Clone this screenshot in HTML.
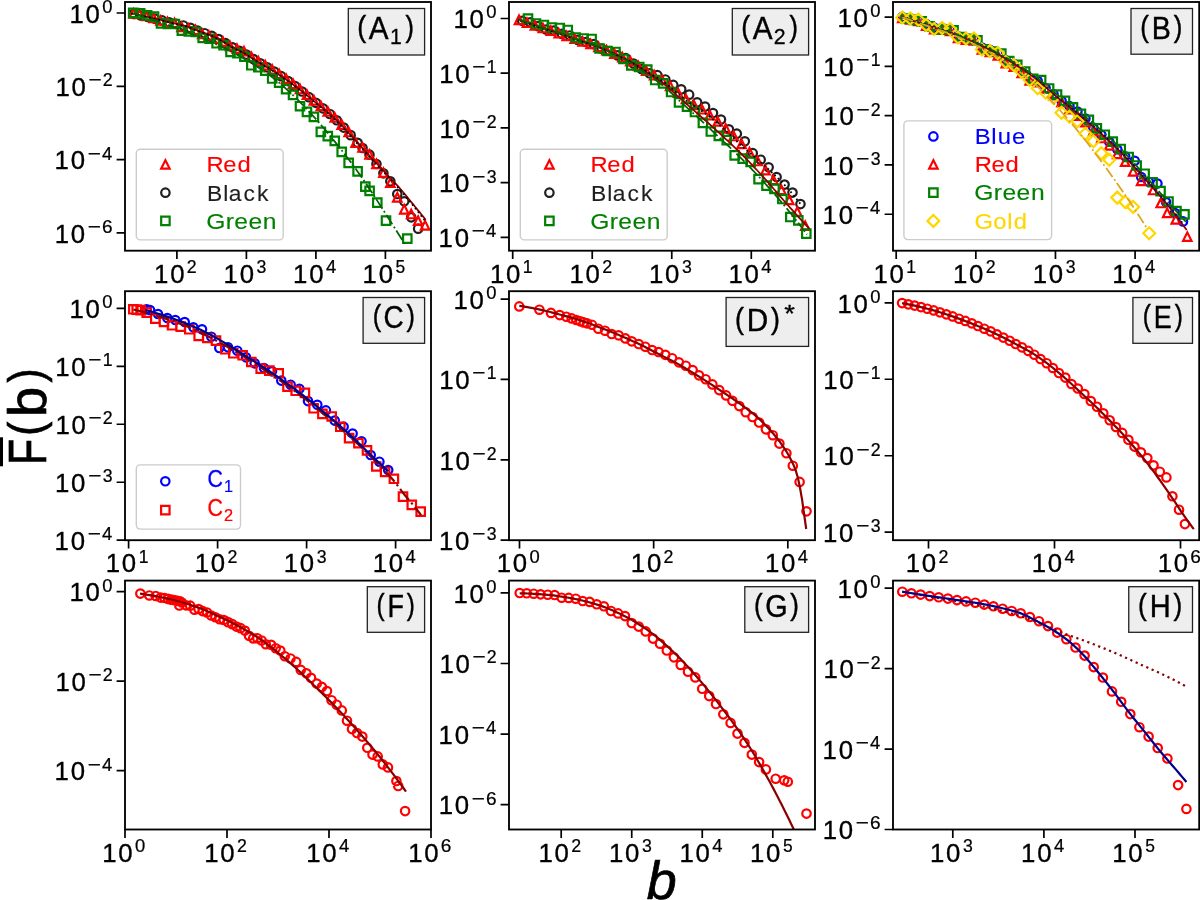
<!DOCTYPE html>
<html lang="en"><head><meta charset="utf-8"><title>CCDF panels</title>
<style>html,body{margin:0;padding:0;background:#fff}body{width:1200px;height:900px;overflow:hidden;font-family:"Liberation Sans",sans-serif}svg{display:block;will-change:transform}</style>
</head><body>
<svg width="1200" height="900" viewBox="0 0 1200 900" font-family="'Liberation Sans', sans-serif">
<rect width="1200" height="900" fill="#fff"/>
<defs>
<clipPath id="cA1"><rect x="125" y="2" width="306" height="248.7"/></clipPath>
<clipPath id="cA2"><rect x="509" y="2" width="306" height="248.7"/></clipPath>
<clipPath id="cB"><rect x="893" y="2" width="306.2" height="248.7"/></clipPath>
<clipPath id="cC"><rect x="125" y="291.2" width="306" height="249"/></clipPath>
<clipPath id="cD"><rect x="509" y="291.2" width="306" height="249"/></clipPath>
<clipPath id="cE"><rect x="893" y="291.2" width="306.2" height="249"/></clipPath>
<clipPath id="cF"><rect x="125" y="580.6" width="306" height="248.9"/></clipPath>
<clipPath id="cG"><rect x="509" y="580.6" width="306" height="248.9"/></clipPath>
<clipPath id="cH"><rect x="893" y="580.6" width="306.2" height="248.9"/></clipPath>
</defs>
<g id="panel-A1">
<g clip-path="url(#cA1)" fill="none" stroke-width="2.2" stroke-linejoin="miter">
<path d="M129.47 13.94a4.22 4.22 0 1 0 8.45 0a4.22 4.22 0 1 0 -8.45 0zM136.57 15.45a4.22 4.22 0 1 0 8.45 0a4.22 4.22 0 1 0 -8.45 0zM143.68 17.02a4.22 4.22 0 1 0 8.45 0a4.22 4.22 0 1 0 -8.45 0zM150.77 18.65a4.22 4.22 0 1 0 8.45 0a4.22 4.22 0 1 0 -8.45 0zM157.88 20.41a4.22 4.22 0 1 0 8.45 0a4.22 4.22 0 1 0 -8.45 0zM164.97 22.21a4.22 4.22 0 1 0 8.45 0a4.22 4.22 0 1 0 -8.45 0zM172.07 23.91a4.22 4.22 0 1 0 8.45 0a4.22 4.22 0 1 0 -8.45 0zM179.18 25.47a4.22 4.22 0 1 0 8.45 0a4.22 4.22 0 1 0 -8.45 0zM186.27 27.88a4.22 4.22 0 1 0 8.45 0a4.22 4.22 0 1 0 -8.45 0zM193.38 30.68a4.22 4.22 0 1 0 8.45 0a4.22 4.22 0 1 0 -8.45 0zM200.47 33.22a4.22 4.22 0 1 0 8.45 0a4.22 4.22 0 1 0 -8.45 0zM207.42 35.86a4.22 4.22 0 1 0 8.45 0a4.22 4.22 0 1 0 -8.45 0zM214.38 39.1a4.22 4.22 0 1 0 8.45 0a4.22 4.22 0 1 0 -8.45 0zM221.33 43.17a4.22 4.22 0 1 0 8.45 0a4.22 4.22 0 1 0 -8.45 0zM228.28 47.34a4.22 4.22 0 1 0 8.45 0a4.22 4.22 0 1 0 -8.45 0zM235.22 50.84a4.22 4.22 0 1 0 8.45 0a4.22 4.22 0 1 0 -8.45 0zM242.17 54.51a4.22 4.22 0 1 0 8.45 0a4.22 4.22 0 1 0 -8.45 0zM249.12 59.05a4.22 4.22 0 1 0 8.45 0a4.22 4.22 0 1 0 -8.45 0zM256.07 63.29a4.22 4.22 0 1 0 8.45 0a4.22 4.22 0 1 0 -8.45 0zM263.02 67.35a4.22 4.22 0 1 0 8.45 0a4.22 4.22 0 1 0 -8.45 0zM269.97 71.59a4.22 4.22 0 1 0 8.45 0a4.22 4.22 0 1 0 -8.45 0zM276.92 76.19a4.22 4.22 0 1 0 8.45 0a4.22 4.22 0 1 0 -8.45 0zM283.88 81.05a4.22 4.22 0 1 0 8.45 0a4.22 4.22 0 1 0 -8.45 0zM290.82 86.14a4.22 4.22 0 1 0 8.45 0a4.22 4.22 0 1 0 -8.45 0zM297.77 91.52a4.22 4.22 0 1 0 8.45 0a4.22 4.22 0 1 0 -8.45 0zM304.72 97.16a4.22 4.22 0 1 0 8.45 0a4.22 4.22 0 1 0 -8.45 0zM311.67 102.83a4.22 4.22 0 1 0 8.45 0a4.22 4.22 0 1 0 -8.45 0zM318.62 108.34a4.22 4.22 0 1 0 8.45 0a4.22 4.22 0 1 0 -8.45 0zM325.57 114a4.22 4.22 0 1 0 8.45 0a4.22 4.22 0 1 0 -8.45 0zM332.52 120.29a4.22 4.22 0 1 0 8.45 0a4.22 4.22 0 1 0 -8.45 0zM339.47 127.57a4.22 4.22 0 1 0 8.45 0a4.22 4.22 0 1 0 -8.45 0zM346.42 135.13a4.22 4.22 0 1 0 8.45 0a4.22 4.22 0 1 0 -8.45 0zM353.38 142.78a4.22 4.22 0 1 0 8.45 0a4.22 4.22 0 1 0 -8.45 0zM358.32 148a4.22 4.22 0 1 0 8.45 0a4.22 4.22 0 1 0 -8.45 0zM365.27 154.7a4.22 4.22 0 1 0 8.45 0a4.22 4.22 0 1 0 -8.45 0zM372.22 164a4.22 4.22 0 1 0 8.45 0a4.22 4.22 0 1 0 -8.45 0zM379.17 173.3a4.22 4.22 0 1 0 8.45 0a4.22 4.22 0 1 0 -8.45 0zM386.12 181.3a4.22 4.22 0 1 0 8.45 0a4.22 4.22 0 1 0 -8.45 0zM393.07 194a4.22 4.22 0 1 0 8.45 0a4.22 4.22 0 1 0 -8.45 0zM400.02 201.3a4.22 4.22 0 1 0 8.45 0a4.22 4.22 0 1 0 -8.45 0zM406.97 217.3a4.22 4.22 0 1 0 8.45 0a4.22 4.22 0 1 0 -8.45 0zM413.92 228.7a4.22 4.22 0 1 0 8.45 0a4.22 4.22 0 1 0 -8.45 0z" stroke="#1f1f1f"/>
<path d="M133.5 9.28l4.22 8.45h-8.45zM139.5 9.78l4.22 8.45h-8.45zM146.5 11.78l4.22 8.45h-8.45zM153.5 13.78l4.22 8.45h-8.45zM160.5 16.27l4.22 8.45h-8.45zM167.5 17.77l4.22 8.45h-8.45zM174.5 18.77l4.22 8.45h-8.45zM181.5 22.77l4.22 8.45h-8.45zM188.5 24.27l4.22 8.45h-8.45zM195.5 25.77l4.22 8.45h-8.45zM202.2 29.67l4.22 8.45h-8.45zM209 31.48l4.22 8.45h-8.45zM216 34.48l4.22 8.45h-8.45zM223 37.48l4.22 8.45h-8.45zM230 41.77l4.22 8.45h-8.45zM237 44.48l4.22 8.45h-8.45zM244 46.98l4.22 8.45h-8.45zM251.35 52.61l4.22 8.45h-8.45zM258.3 56.98l4.22 8.45h-8.45zM265.25 61.05l4.22 8.45h-8.45zM272.2 65.21l4.22 8.45h-8.45zM279.15 69.71l4.22 8.45h-8.45zM286.1 74.5l4.22 8.45h-8.45zM293.05 79.53l4.22 8.45h-8.45zM300 84.81l4.22 8.45h-8.45zM306.95 90.4l4.22 8.45h-8.45zM313.9 96.08l4.22 8.45h-8.45zM320.85 101.64l4.22 8.45h-8.45zM327.8 107.2l4.22 8.45h-8.45zM334.75 113.24l4.22 8.45h-8.45zM341.7 120.33l4.22 8.45h-8.45zM348.65 127.81l4.22 8.45h-8.45zM355.6 138.38l4.22 8.45h-8.45zM362.55 143.28l4.22 8.45h-8.45zM369.5 150.28l4.22 8.45h-8.45zM376.45 159.78l4.22 8.45h-8.45zM383.4 168.47l4.22 8.45h-8.45zM390.35 178.47l4.22 8.45h-8.45zM397.3 193.08l4.22 8.45h-8.45zM404.25 205.08l4.22 8.45h-8.45zM411.2 209.78l4.22 8.45h-8.45zM418.15 216.47l4.22 8.45h-8.45zM425.1 221.08l4.22 8.45h-8.45z" stroke="#ff0000"/>
<path d="M128.97 8.68h8.45v8.45h-8.45zM135.92 9.08h8.45v8.45h-8.45zM142.88 11.08h8.45v8.45h-8.45zM149.82 12.47h8.45v8.45h-8.45zM156.78 19.08h8.45v8.45h-8.45zM163.72 19.77h8.45v8.45h-8.45zM170.67 19.77h8.45v8.45h-8.45zM177.62 26.48h8.45v8.45h-8.45zM184.57 27.08h8.45v8.45h-8.45zM191.53 27.77h8.45v8.45h-8.45zM198.47 33.77h8.45v8.45h-8.45zM205.42 34.48h8.45v8.45h-8.45zM212.38 39.07h8.45v8.45h-8.45zM219.33 41.07h8.45v8.45h-8.45zM226.28 47.77h8.45v8.45h-8.45zM233.22 49.07h8.45v8.45h-8.45zM240.17 52.48h8.45v8.45h-8.45zM247.12 61.07h8.45v8.45h-8.45zM254.08 63.07h8.45v8.45h-8.45zM261.02 66.48h8.45v8.45h-8.45zM267.97 74.28h8.45v8.45h-8.45zM274.92 78.48h8.45v8.45h-8.45zM281.88 84.88h8.45v8.45h-8.45zM288.82 90.58h8.45v8.45h-8.45zM295.77 101.98h8.45v8.45h-8.45zM302.72 107.68h8.45v8.45h-8.45zM309.67 112.68h8.45v8.45h-8.45zM316.62 127.58h8.45v8.45h-8.45zM323.57 131.88h8.45v8.45h-8.45zM330.52 136.58h8.45v8.45h-8.45zM337.47 147.58h8.45v8.45h-8.45zM344.42 158.68h8.45v8.45h-8.45zM353.38 167.18h8.45v8.45h-8.45zM361.07 182.47h8.45v8.45h-8.45zM365.38 186.68h8.45v8.45h-8.45zM373.07 198.47h8.45v8.45h-8.45zM381.77 216.47h8.45v8.45h-8.45zM403.07 234.47h8.45v8.45h-8.45z" stroke="#008000"/>
<path d="M131 13.3L133.12 13.72L135.24 14.16L137.36 14.61L139.48 15.06L141.6 15.52L143.72 15.98L145.84 16.45L147.96 16.93L150.08 17.41L152.2 17.9L154.32 18.39L156.44 18.9L158.56 19.42L160.68 19.95L162.8 20.49L164.92 21.02L167.04 21.56L169.16 22.1L171.28 22.62L173.4 23.14L175.52 23.64L177.64 24.09L179.76 24.54L181.88 25L184 25.53L186.12 26.14L188.24 26.89L190.36 27.72L192.48 28.59L194.6 29.45L196.72 30.26L198.84 31.04L200.96 31.79L203.08 32.54L205.21 33.3L207.33 34.08L209.45 34.88L211.57 35.72L213.69 36.61L215.81 37.58L217.93 38.64L220.05 39.8L222.17 41.03L224.29 42.3L226.41 43.6L228.53 44.89L230.65 46.16L232.77 47.39L234.89 48.54L237.01 49.6L239.13 50.59L241.25 51.59L243.37 52.66L245.49 53.85L247.61 55.17L249.73 56.56L251.85 57.97L253.97 59.35L256.09 60.67L258.21 61.95L260.33 63.2L262.45 64.45L264.57 65.68L266.69 66.92L268.81 68.18L270.93 69.45L273.05 70.76L275.17 72.11L277.29 73.5L279.41 74.91L281.53 76.34L283.65 77.81L285.77 79.29L287.89 80.8L290.01 82.33L292.13 83.87L294.25 85.44L296.37 87.03L298.49 88.66L300.61 90.32L302.73 92.01L304.85 93.72L306.97 95.44L309.09 97.17L311.21 98.91L313.33 100.64L315.45 102.37L317.57 104.07L319.69 105.75L321.81 107.42L323.93 109.1L326.05 110.8L328.17 112.54L330.29 114.32L332.41 116.16L334.53 118.07L336.65 120.09L338.77 122.26L340.89 124.5L343.01 126.74L345.13 129.01L347.25 131.31L349.37 133.63L351.49 135.96L353.62 138.3L355.74 140.63L357.86 142.96L359.98 145.29L362.1 147.63L364.22 149.97L366.34 152.31L368.46 154.63L370.58 156.94L372.7 159.23L374.82 161.49L376.94 163.74L379.06 165.98L381.18 168.22L383.3 170.47L385.42 172.73L387.54 174.99L389.66 177.24L391.78 179.49L393.9 181.76L396.02 184.06L398.14 186.4L400.26 188.8L402.38 191.27L404.5 193.8L406.62 196.38L408.74 198.98L410.86 201.59L412.98 204.17L415.1 206.75L417.22 209.33L419.34 211.92L421.46 214.51L423.58 217.1L425.7 219.7" stroke="#8b0000" stroke-width="1.75"/>
<path d="M131 13.6L133.12 14.02L135.23 14.46L137.35 14.91L139.46 15.36L141.58 15.81L143.69 16.28L145.81 16.75L147.92 17.22L150.04 17.7L152.15 18.19L154.27 18.68L156.38 19.19L158.5 19.7L160.61 20.23L162.73 20.77L164.84 21.3L166.96 21.84L169.07 22.37L171.19 22.9L173.3 23.41L175.42 23.91L177.53 24.37L179.65 24.81L181.76 25.28L183.88 25.79L185.99 26.4L188.11 27.14L190.22 27.96L192.34 28.83L194.45 29.69L196.57 30.5L198.68 31.28L200.8 32.03L202.91 32.78L205.03 33.54L207.14 34.31L209.26 35.11L211.37 35.94L213.49 36.83L215.6 37.78L217.72 38.83L219.83 39.98L221.95 41.2L224.06 42.47L226.18 43.76L228.29 45.05L230.41 46.32L232.53 47.55L234.64 48.71L236.76 49.78L238.87 50.77L240.99 51.77L243.1 52.82L245.22 53.99L247.33 55.29L249.45 56.67L251.56 58.08L253.68 59.46L255.79 60.79L257.91 62.07L260.02 63.32L262.14 64.56L264.25 65.8L266.37 67.03L268.48 68.28L270.6 69.55L272.71 70.85L274.83 72.19L276.94 73.57L279.06 74.97L281.17 76.4L283.29 77.85L285.4 79.33L287.52 80.83L289.63 82.35L291.75 83.89L293.86 85.45L295.98 87.03L298.09 88.64L300.21 90.28L302.32 91.95L304.44 93.63L306.55 95.34L308.67 97.06L310.78 98.8L312.9 100.55L315.01 102.31L317.13 104.07L319.24 105.84L321.36 107.61L323.47 109.4L325.59 111.21L327.71 113.05L329.82 114.92L331.94 116.84L334.05 118.8L336.17 120.83L338.28 122.97L340.4 125.18L342.51 127.41L344.63 129.66L346.74 131.95L348.86 134.26L350.97 136.58L353.09 138.91L355.2 141.25L357.32 143.57L359.43 145.89L361.55 148.23L363.66 150.56L365.78 152.89L367.89 155.22L370.01 157.52L372.12 159.81L374.24 162.07L376.35 164.32L378.47 166.55L380.58 168.79L382.7 171.03L384.81 173.29L386.93 175.55L389.04 177.79L391.16 180.03L393.27 182.29L395.39 184.57L397.5 186.89L399.62 189.27L401.73 191.7L403.85 194.19L405.96 196.73L408.08 199.31L410.19 201.92L412.31 204.54L414.42 207.18L416.54 209.85L418.65 212.54L420.77 215.27L422.88 218.02L425 220.8" stroke="#000" stroke-width="1.75" stroke-dasharray="1.75 2.89"/>
<path d="M132.7 13.3L134.67 13.92L136.63 14.54L138.6 15.17L140.56 15.8L142.53 16.44L144.5 17.08L146.46 17.73L148.43 18.38L150.4 19.03L152.36 19.69L154.33 20.36L156.29 21.03L158.26 21.7L160.23 22.38L162.19 23.06L164.16 23.75L166.13 24.44L168.09 25.14L170.06 25.85L172.02 26.56L173.99 27.28L175.96 28L177.92 28.73L179.89 29.46L181.85 30.19L183.82 30.93L185.79 31.68L187.75 32.42L189.72 33.17L191.69 33.94L193.65 34.7L195.62 35.48L197.58 36.27L199.55 37.07L201.52 37.89L203.48 38.72L205.45 39.55L207.42 40.39L209.38 41.24L211.35 42.09L213.31 42.96L215.28 43.84L217.25 44.73L219.21 45.63L221.18 46.55L223.14 47.48L225.11 48.43L227.08 49.39L229.04 50.37L231.01 51.37L232.98 52.39L234.94 53.43L236.91 54.49L238.87 55.57L240.84 56.68L242.81 57.8L244.77 58.94L246.74 60.1L248.71 61.28L250.67 62.48L252.64 63.7L254.6 64.94L256.57 66.2L258.54 67.48L260.5 68.79L262.47 70.12L264.43 71.48L266.4 72.87L268.37 74.29L270.33 75.74L272.3 77.23L274.27 78.76L276.23 80.33L278.2 81.95L280.16 83.6L282.13 85.3L284.1 87.02L286.06 88.78L288.03 90.57L289.99 92.38L291.96 94.21L293.93 96.07L295.89 97.97L297.86 99.9L299.83 101.88L301.79 103.88L303.76 105.92L305.72 107.99L307.69 110.09L309.66 112.21L311.62 114.35L313.59 116.51L315.56 118.7L317.52 120.92L319.49 123.18L321.45 125.47L323.42 127.78L325.39 130.12L327.35 132.49L329.32 134.88L331.28 137.28L333.25 139.7L335.22 142.14L337.18 144.6L339.15 147.07L341.12 149.56L343.08 152.07L345.05 154.6L347.01 157.16L348.98 159.75L350.95 162.36L352.91 165L354.88 167.68L356.85 170.39L358.81 173.14L360.78 175.94L362.74 178.79L364.71 181.68L366.68 184.61L368.64 187.57L370.61 190.56L372.57 193.56L374.54 196.58L376.51 199.61L378.47 202.65L380.44 205.68L382.41 208.7L384.37 211.75L386.34 214.82L388.3 217.91L390.27 221L392.24 224.11L394.2 227.21L396.17 230.32L398.14 233.44L400.1 236.57L402.07 239.71L404.03 242.85L406 246" stroke="#006400" stroke-width="1.75" stroke-dasharray="11.2 2.8 1.75 2.8"/>
</g>
<path d="M176.9 250.7v8.4M246.4 250.7v8.4M315.9 250.7v8.4M385.4 250.7v8.4M125 13h-8.4M125 86.3h-8.4M125 159.6h-8.4M125 232.9h-8.4" stroke="#000" stroke-width="1.7" fill="none"/>
<rect x="125" y="2" width="306" height="248.7" fill="none" stroke="#000" stroke-width="1.85"/>
<text transform="translate(154.1 282.9) scale(0.9733 1)" font-size="26.5" fill="#000" stroke="#000" stroke-width="0.35"><tspan x="0">1</tspan><tspan x="16.47">0</tspan></text><text transform="translate(186.85 273.1) scale(0.9586 1)" font-size="18.55" fill="#000" stroke="#000" stroke-width="0.24">2</text>
<text transform="translate(223.6 282.9) scale(0.9733 1)" font-size="26.5" fill="#000" stroke="#000" stroke-width="0.35"><tspan x="0">1</tspan><tspan x="16.47">0</tspan></text><text transform="translate(256.62 273.1) scale(0.9551 1)" font-size="18.55" fill="#000" stroke="#000" stroke-width="0.24">3</text>
<text transform="translate(293.1 282.9) scale(0.9733 1)" font-size="26.5" fill="#000" stroke="#000" stroke-width="0.35"><tspan x="0">1</tspan><tspan x="16.47">0</tspan></text><text transform="translate(325.9 273.1) scale(0.9946 1)" font-size="18.55" fill="#000" stroke="#000" stroke-width="0.24">4</text>
<text transform="translate(362.6 282.9) scale(0.9733 1)" font-size="26.5" fill="#000" stroke="#000" stroke-width="0.35"><tspan x="0">1</tspan><tspan x="16.47">0</tspan></text><text transform="translate(395.62 273.1) scale(0.9385 1)" font-size="18.55" fill="#000" stroke="#000" stroke-width="0.24">5</text>
<text transform="translate(69.46 22.7) scale(0.9733 1)" font-size="26.5" fill="#000" stroke="#000" stroke-width="0.35"><tspan x="0">1</tspan><tspan x="16.47">0</tspan></text><text transform="translate(102.26 12.9) scale(0.9945 1)" font-size="18.55" fill="#000" stroke="#000" stroke-width="0.24">0</text>
<text transform="translate(55.39 96) scale(0.9733 1)" font-size="26.5" fill="#000" stroke="#000" stroke-width="0.35"><tspan x="0">1</tspan><tspan x="16.47">0</tspan></text><text transform="translate(88.5 86.2) scale(1.2155 1)" font-size="18.55" fill="#000" stroke="#000" stroke-width="0.24">−</text><text transform="translate(102.81 86.2) scale(0.9586 1)" font-size="18.55" fill="#000" stroke="#000" stroke-width="0.24">2</text>
<text transform="translate(54.62 169.3) scale(0.9733 1)" font-size="26.5" fill="#000" stroke="#000" stroke-width="0.35"><tspan x="0">1</tspan><tspan x="16.47">0</tspan></text><text transform="translate(87.73 159.5) scale(1.2155 1)" font-size="18.55" fill="#000" stroke="#000" stroke-width="0.24">−</text><text transform="translate(102.08 159.5) scale(0.9946 1)" font-size="18.55" fill="#000" stroke="#000" stroke-width="0.24">4</text>
<text transform="translate(54.74 242.6) scale(0.9733 1)" font-size="26.5" fill="#000" stroke="#000" stroke-width="0.35"><tspan x="0">1</tspan><tspan x="16.47">0</tspan></text><text transform="translate(87.85 232.8) scale(1.2155 1)" font-size="18.55" fill="#000" stroke="#000" stroke-width="0.24">−</text><text transform="translate(102.02 232.8) scale(1.0293 1)" font-size="18.55" fill="#000" stroke="#000" stroke-width="0.24">6</text>
<rect x="348.3" y="8.5" width="76.3" height="46.5" fill="#eeeeee" stroke="#222" stroke-width="1.3"/>
<text transform="translate(357.36 39.2) scale(0.9328 1)" font-size="31.8" fill="#000" stroke="#000" stroke-width="0.42"><tspan x="0" y="-2.01" font-size="28.68">(</tspan><tspan x="12.15" y="0">A</tspan></text>
<text transform="translate(390.05 43.8) scale(0.9498 1)" font-size="22.26" fill="#000" stroke="#000" stroke-width="0.29">1</text>
<text transform="translate(405.46 39.2) scale(0.8841 1)" font-size="31.8" fill="#000" stroke="#000" stroke-width="0.42"><tspan x="0" y="-2.01" font-size="28.68">)</tspan></text>
<rect x="136.3" y="149.2" width="146.9" height="90.7" rx="4" ry="4" fill="#fff" fill-opacity="0.8" stroke="#ccc" stroke-width="1.4"/>
<path d="M165.4 160.18l4.22 8.45h-8.45z" fill="none" stroke="#ff0000" stroke-width="2.2"/>
<text transform="translate(206.58 172.3) scale(1.0599 1)" font-size="22.43" fill="#ff0000" stroke="#ff0000" stroke-width="0.13"><tspan x="0">R</tspan><tspan x="15.77">e</tspan><tspan x="29.15">d</tspan></text>
<path d="M161.18 192.7a4.22 4.22 0 1 0 8.45 0a4.22 4.22 0 1 0 -8.45 0z" fill="none" stroke="#1f1f1f" stroke-width="2.2"/>
<text transform="translate(207.05 200.6) scale(1.0192 1)" font-size="22.43" fill="#1f1f1f" stroke="#1f1f1f" stroke-width="0.13"><tspan x="0">B</tspan><tspan x="15.88">l</tspan><tspan x="21.37">a</tspan><tspan x="35.68">c</tspan><tspan x="48.89">k</tspan></text>
<path d="M161.18 216.68h8.45v8.45h-8.45z" fill="none" stroke="#008000" stroke-width="2.2"/>
<text transform="translate(206.13 229) scale(1.0990 1)" font-size="22.43" fill="#008000" stroke="#008000" stroke-width="0.13"><tspan x="0">G</tspan><tspan x="17.79">r</tspan><tspan x="25.68">e</tspan><tspan x="38.55">e</tspan><tspan x="51.62">n</tspan></text>
</g>
<g id="panel-A2">
<g clip-path="url(#cA2)" fill="none" stroke-width="2.2" stroke-linejoin="miter">
<path d="M517.98 20.85a4.22 4.22 0 1 0 8.45 0a4.22 4.22 0 1 0 -8.45 0zM525.93 22.37a4.22 4.22 0 1 0 8.45 0a4.22 4.22 0 1 0 -8.45 0zM533.88 26.2a4.22 4.22 0 1 0 8.45 0a4.22 4.22 0 1 0 -8.45 0zM541.83 29.51a4.22 4.22 0 1 0 8.45 0a4.22 4.22 0 1 0 -8.45 0zM549.77 30.55a4.22 4.22 0 1 0 8.45 0a4.22 4.22 0 1 0 -8.45 0zM557.73 33.9a4.22 4.22 0 1 0 8.45 0a4.22 4.22 0 1 0 -8.45 0zM565.68 35.49a4.22 4.22 0 1 0 8.45 0a4.22 4.22 0 1 0 -8.45 0zM573.62 39.9a4.22 4.22 0 1 0 8.45 0a4.22 4.22 0 1 0 -8.45 0zM581.58 42.01a4.22 4.22 0 1 0 8.45 0a4.22 4.22 0 1 0 -8.45 0zM589.52 44.14a4.22 4.22 0 1 0 8.45 0a4.22 4.22 0 1 0 -8.45 0zM597.48 48.69a4.22 4.22 0 1 0 8.45 0a4.22 4.22 0 1 0 -8.45 0zM605.43 50.99a4.22 4.22 0 1 0 8.45 0a4.22 4.22 0 1 0 -8.45 0zM613.38 55.43a4.22 4.22 0 1 0 8.45 0a4.22 4.22 0 1 0 -8.45 0zM621.33 57.98a4.22 4.22 0 1 0 8.45 0a4.22 4.22 0 1 0 -8.45 0zM629.27 63.5a4.22 4.22 0 1 0 8.45 0a4.22 4.22 0 1 0 -8.45 0zM637.23 69.04a4.22 4.22 0 1 0 8.45 0a4.22 4.22 0 1 0 -8.45 0zM645.18 73.25a4.22 4.22 0 1 0 8.45 0a4.22 4.22 0 1 0 -8.45 0zM653.12 75.2a4.22 4.22 0 1 0 8.45 0a4.22 4.22 0 1 0 -8.45 0zM661.08 79.5a4.22 4.22 0 1 0 8.45 0a4.22 4.22 0 1 0 -8.45 0zM669.02 84.9a4.22 4.22 0 1 0 8.45 0a4.22 4.22 0 1 0 -8.45 0zM676.98 89.3a4.22 4.22 0 1 0 8.45 0a4.22 4.22 0 1 0 -8.45 0zM684.93 94.7a4.22 4.22 0 1 0 8.45 0a4.22 4.22 0 1 0 -8.45 0zM692.88 102.3a4.22 4.22 0 1 0 8.45 0a4.22 4.22 0 1 0 -8.45 0zM700.83 106.6a4.22 4.22 0 1 0 8.45 0a4.22 4.22 0 1 0 -8.45 0zM708.77 113.1a4.22 4.22 0 1 0 8.45 0a4.22 4.22 0 1 0 -8.45 0zM716.73 119.6a4.22 4.22 0 1 0 8.45 0a4.22 4.22 0 1 0 -8.45 0zM724.68 129.3a4.22 4.22 0 1 0 8.45 0a4.22 4.22 0 1 0 -8.45 0zM732.62 133.7a4.22 4.22 0 1 0 8.45 0a4.22 4.22 0 1 0 -8.45 0zM740.58 141.3a4.22 4.22 0 1 0 8.45 0a4.22 4.22 0 1 0 -8.45 0zM748.52 153.2a4.22 4.22 0 1 0 8.45 0a4.22 4.22 0 1 0 -8.45 0zM756.48 159.7a4.22 4.22 0 1 0 8.45 0a4.22 4.22 0 1 0 -8.45 0zM764.43 167.3a4.22 4.22 0 1 0 8.45 0a4.22 4.22 0 1 0 -8.45 0zM772.38 177a4.22 4.22 0 1 0 8.45 0a4.22 4.22 0 1 0 -8.45 0zM780.33 184.6a4.22 4.22 0 1 0 8.45 0a4.22 4.22 0 1 0 -8.45 0zM788.27 192.6a4.22 4.22 0 1 0 8.45 0a4.22 4.22 0 1 0 -8.45 0zM796.23 204.1a4.22 4.22 0 1 0 8.45 0a4.22 4.22 0 1 0 -8.45 0z" stroke="#1f1f1f"/>
<path d="M519 15.58l4.22 8.45h-8.45zM526.95 18.41l4.22 8.45h-8.45zM534.9 21.17l4.22 8.45h-8.45zM542.85 23.82l4.22 8.45h-8.45zM550.8 26.35l4.22 8.45h-8.45zM558.75 28.91l4.22 8.45h-8.45zM566.7 31.62l4.22 8.45h-8.45zM574.65 34.39l4.22 8.45h-8.45zM582.6 37.12l4.22 8.45h-8.45zM590.55 39.76l4.22 8.45h-8.45zM598.5 42.59l4.22 8.45h-8.45zM606.45 45.86l4.22 8.45h-8.45zM614.4 49.43l4.22 8.45h-8.45zM622.35 53.07l4.22 8.45h-8.45zM630.3 57l4.22 8.45h-8.45zM638.25 61.59l4.22 8.45h-8.45zM646.2 66.39l4.22 8.45h-8.45zM654.15 71.02l4.22 8.45h-8.45zM662.1 75.64l4.22 8.45h-8.45zM670.05 81.59l4.22 8.45h-8.45zM678 88.38l4.22 8.45h-8.45zM685.95 94.68l4.22 8.45h-8.45zM693.9 100.62l4.22 8.45h-8.45zM701.85 105.06l4.22 8.45h-8.45zM709.8 110.88l4.22 8.45h-8.45zM717.75 117.2l4.22 8.45h-8.45zM725.7 124.25l4.22 8.45h-8.45zM733.65 131.81l4.22 8.45h-8.45zM741.6 139.73l4.22 8.45h-8.45zM749.55 148.06l4.22 8.45h-8.45zM757.5 156.78l4.22 8.45h-8.45zM765.45 165.94l4.22 8.45h-8.45zM773.4 175.65l4.22 8.45h-8.45zM781.35 185.6l4.22 8.45h-8.45zM789.3 195.76l4.22 8.45h-8.45zM797.25 207.39l4.22 8.45h-8.45zM805.2 221.37l4.22 8.45h-8.45z" stroke="#ff0000"/>
<path d="M523.77 14.28h8.45v8.45h-8.45zM531.73 19.27h8.45v8.45h-8.45zM539.67 20.77h8.45v8.45h-8.45zM547.62 23.27h8.45v8.45h-8.45zM555.57 23.77h8.45v8.45h-8.45zM563.52 25.77h8.45v8.45h-8.45zM571.48 33.27h8.45v8.45h-8.45zM579.42 34.27h8.45v8.45h-8.45zM587.38 34.77h8.45v8.45h-8.45zM595.32 44.27h8.45v8.45h-8.45zM603.27 46.77h8.45v8.45h-8.45zM611.23 47.77h8.45v8.45h-8.45zM619.17 54.77h8.45v8.45h-8.45zM627.12 61.27h8.45v8.45h-8.45zM635.07 62.77h8.45v8.45h-8.45zM643.02 65.28h8.45v8.45h-8.45zM650.98 75.78h8.45v8.45h-8.45zM658.92 79.08h8.45v8.45h-8.45zM666.88 87.78h8.45v8.45h-8.45zM674.82 98.08h8.45v8.45h-8.45zM682.77 102.38h8.45v8.45h-8.45zM690.73 107.78h8.45v8.45h-8.45zM698.67 118.58h8.45v8.45h-8.45zM706.62 127.28h8.45v8.45h-8.45zM714.57 131.58h8.45v8.45h-8.45zM722.52 135.97h8.45v8.45h-8.45zM730.48 151.08h8.45v8.45h-8.45zM738.42 154.38h8.45v8.45h-8.45zM746.38 157.58h8.45v8.45h-8.45zM754.32 174.97h8.45v8.45h-8.45zM762.27 181.47h8.45v8.45h-8.45zM770.23 184.68h8.45v8.45h-8.45zM778.17 194.78h8.45v8.45h-8.45zM786.12 212.78h8.45v8.45h-8.45zM794.07 216.08h8.45v8.45h-8.45zM802.07 229.47h8.45v8.45h-8.45z" stroke="#008000"/>
<path d="M519 19.5L521.09 20.25L523.18 21L525.27 21.75L527.35 22.49L529.44 23.22L531.53 23.95L533.62 24.67L535.71 25.38L537.8 26.09L539.88 26.8L541.97 27.49L544.06 28.17L546.15 28.84L548.24 29.51L550.33 30.17L552.42 30.84L554.5 31.52L556.59 32.2L558.68 32.89L560.77 33.6L562.86 34.32L564.95 35.04L567.04 35.78L569.12 36.51L571.21 37.25L573.3 37.99L575.39 38.73L577.48 39.47L579.57 40.2L581.65 40.92L583.74 41.62L585.83 42.32L587.92 43.03L590.01 43.73L592.1 44.45L594.19 45.19L596.27 45.96L598.36 46.75L600.45 47.58L602.54 48.44L604.63 49.34L606.72 50.26L608.81 51.2L610.89 52.17L612.98 53.14L615.07 54.13L617.16 55.12L619.25 56.12L621.34 57.11L623.42 58.12L625.51 59.16L627.6 60.24L629.69 61.38L631.78 62.58L633.87 63.82L635.96 65.11L638.04 66.43L640.13 67.77L642.22 69.14L644.31 70.53L646.4 71.93L648.49 73.34L650.57 74.74L652.66 76.14L654.75 77.53L656.84 78.93L658.93 80.35L661.02 81.82L663.11 83.34L665.19 84.95L667.28 86.69L669.37 88.55L671.46 90.47L673.55 92.42L675.64 94.35L677.73 96.21L679.81 98.05L681.9 99.88L683.99 101.7L686.08 103.52L688.17 105.33L690.26 107.15L692.34 108.97L694.43 110.79L696.52 112.63L698.61 114.47L700.7 116.33L702.79 118.18L704.88 120.04L706.96 121.9L709.05 123.76L711.14 125.64L713.23 127.52L715.32 129.41L717.41 131.32L719.49 133.23L721.58 135.16L723.67 137.09L725.76 139.03L727.85 140.98L729.94 142.94L732.03 144.91L734.11 146.9L736.2 148.91L738.29 150.94L740.38 152.99L742.47 155.07L744.56 157.17L746.65 159.3L748.73 161.45L750.82 163.62L752.91 165.81L755 168.03L757.09 170.26L759.18 172.51L761.26 174.77L763.35 177.06L765.44 179.37L767.53 181.73L769.62 184.12L771.71 186.53L773.8 188.96L775.88 191.4L777.97 193.83L780.06 196.25L782.15 198.66L784.24 201.04L786.33 203.39L788.42 205.73L790.5 208.07L792.59 210.39L794.68 212.71L796.77 215.02L798.86 217.32L800.95 219.61L803.03 221.9L805.12 224.17L807.21 226.44L809.3 228.7" stroke="#8b0000" stroke-width="1.75"/>
<path d="M520 20.62L522.02 21.34L524.04 22.06L526.06 22.78L528.07 23.49L530.09 24.2L532.11 24.89L534.13 25.59L536.15 26.28L538.17 26.96L540.19 27.63L542.21 28.3L544.22 28.95L546.24 29.59L548.26 30.23L550.28 30.87L552.3 31.51L554.32 32.16L556.34 32.81L558.36 33.48L560.37 34.15L562.39 34.83L564.41 35.52L566.43 36.22L568.45 36.93L570.47 37.63L572.49 38.34L574.51 39.05L576.52 39.75L578.54 40.44L580.56 41.13L582.58 41.82L584.6 42.49L586.62 43.16L588.64 43.83L590.65 44.51L592.67 45.2L594.69 45.91L596.71 46.64L598.73 47.4L600.75 48.2L602.77 49.03L604.79 49.88L606.8 50.75L608.82 51.64L610.84 52.55L612.86 53.47L614.88 54.39L616.9 55.32L618.92 56.26L620.94 57.19L622.95 58.12L624.97 59.07L626.99 60.07L629.01 61.12L631.03 62.22L633.05 63.34L635.07 64.51L637.08 65.73L639.1 66.97L641.12 68.2L643.14 69.43L645.16 70.66L647.18 71.88L649.2 73.09L651.22 74.28L653.23 75.47L655.25 76.67L657.27 77.84L659.29 79.01L661.31 80.26L663.33 81.62L665.35 83.08L667.37 84.62L669.38 86.23L671.4 87.96L673.42 89.76L675.44 91.54L677.46 93.24L679.48 94.89L681.5 96.52L683.52 98.14L685.53 99.77L687.55 101.38L689.57 102.93L691.59 104.39L693.61 105.77L695.63 107.11L697.65 108.45L699.66 109.77L701.68 111.07L703.7 112.41L705.72 113.85L707.74 115.37L709.76 116.95L711.78 118.56L713.8 120.18L715.81 121.83L717.83 123.53L719.85 125.27L721.87 127.06L723.89 128.89L725.91 130.75L727.93 132.63L729.95 134.54L731.96 136.47L733.98 138.43L736 140.46L738.02 142.47L740.04 144.41L742.06 146.24L744.08 148L746.09 149.72L748.11 151.43L750.13 153.13L752.15 154.85L754.17 156.6L756.19 158.35L758.21 160.09L760.23 161.84L762.24 163.6L764.26 165.38L766.28 167.19L768.3 169.04L770.32 170.92L772.34 172.82L774.36 174.74L776.38 176.68L778.39 178.67L780.41 180.7L782.43 182.77L784.45 184.91L786.47 187.1L788.49 189.36L790.51 191.68L792.53 194.06L794.54 196.49L796.56 198.98L798.58 201.51L800.6 204.1" stroke="#000" stroke-width="1.75" stroke-dasharray="1.75 2.89"/>
<path d="M519 19.5L521.07 20.25L523.14 20.99L525.22 21.73L527.29 22.46L529.36 23.19L531.43 23.91L533.5 24.63L535.58 25.34L537.65 26.04L539.72 26.74L541.79 27.43L543.86 28.1L545.94 28.77L548.01 29.43L550.08 30.09L552.15 30.76L554.22 31.42L556.29 32.1L558.37 32.79L560.44 33.49L562.51 34.2L564.58 34.92L566.65 35.64L568.73 36.37L570.8 37.1L572.87 37.84L574.94 38.57L577.01 39.3L579.09 40.03L581.16 40.74L583.23 41.44L585.3 42.13L587.37 42.82L589.45 43.51L591.52 44.21L593.59 44.94L595.66 45.7L597.73 46.49L599.81 47.33L601.88 48.22L603.95 49.16L606.02 50.13L608.09 51.14L610.17 52.17L612.24 53.23L614.31 54.29L616.38 55.36L618.45 56.43L620.53 57.5L622.6 58.57L624.67 59.66L626.74 60.79L628.81 61.98L630.88 63.22L632.96 64.51L635.03 65.85L637.1 67.22L639.17 68.62L641.24 70.05L643.32 71.5L645.39 72.96L647.46 74.43L649.53 75.9L651.6 77.37L653.68 78.83L655.75 80.29L657.82 81.76L659.89 83.27L661.96 84.82L664.04 86.45L666.11 88.18L668.18 90.03L670.25 91.99L672.32 93.99L674.4 96L676.47 97.96L678.54 99.87L680.61 101.77L682.68 103.66L684.76 105.54L686.83 107.42L688.9 109.3L690.97 111.18L693.04 113.07L695.12 114.96L697.19 116.86L699.26 118.77L701.33 120.69L703.4 122.62L705.47 124.55L707.55 126.49L709.62 128.43L711.69 130.38L713.76 132.33L715.83 134.28L717.91 136.23L719.98 138.18L722.05 140.13L724.12 142.06L726.19 144L728.27 145.93L730.34 147.87L732.41 149.82L734.48 151.78L736.55 153.76L738.63 155.77L740.7 157.8L742.77 159.87L744.84 161.96L746.91 164.08L748.99 166.21L751.06 168.37L753.13 170.55L755.2 172.74L757.27 174.96L759.35 177.19L761.42 179.44L763.49 181.71L765.56 183.99L767.63 186.29L769.71 188.61L771.78 190.94L773.85 193.3L775.92 195.68L777.99 198.09L780.06 200.51L782.14 202.97L784.21 205.45L786.28 207.95L788.35 210.49L790.42 213.05L792.5 215.64L794.57 218.26L796.64 220.9L798.71 223.57L800.78 226.27L802.86 228.99L804.93 231.73L807 234.5" stroke="#006400" stroke-width="1.75" stroke-dasharray="11.2 2.8 1.75 2.8"/>
</g>
<path d="M512.7 250.7v8.4M592.23 250.7v8.4M671.76 250.7v8.4M751.29 250.7v8.4M509 18.5h-8.4M509 73.2h-8.4M509 127.9h-8.4M509 182.6h-8.4M509 237.3h-8.4" stroke="#000" stroke-width="1.7" fill="none"/>
<rect x="509" y="2" width="306" height="248.7" fill="none" stroke="#000" stroke-width="1.85"/>
<text transform="translate(489.9 282.9) scale(0.9733 1)" font-size="26.5" fill="#000" stroke="#000" stroke-width="0.35"><tspan x="0">1</tspan><tspan x="16.47">0</tspan></text><text transform="translate(522.85 273.1) scale(0.9498 1)" font-size="18.55" fill="#000" stroke="#000" stroke-width="0.24">1</text>
<text transform="translate(569.43 282.9) scale(0.9733 1)" font-size="26.5" fill="#000" stroke="#000" stroke-width="0.35"><tspan x="0">1</tspan><tspan x="16.47">0</tspan></text><text transform="translate(602.18 273.1) scale(0.9586 1)" font-size="18.55" fill="#000" stroke="#000" stroke-width="0.24">2</text>
<text transform="translate(648.96 282.9) scale(0.9733 1)" font-size="26.5" fill="#000" stroke="#000" stroke-width="0.35"><tspan x="0">1</tspan><tspan x="16.47">0</tspan></text><text transform="translate(681.98 273.1) scale(0.9551 1)" font-size="18.55" fill="#000" stroke="#000" stroke-width="0.24">3</text>
<text transform="translate(728.49 282.9) scale(0.9733 1)" font-size="26.5" fill="#000" stroke="#000" stroke-width="0.35"><tspan x="0">1</tspan><tspan x="16.47">0</tspan></text><text transform="translate(761.29 273.1) scale(0.9946 1)" font-size="18.55" fill="#000" stroke="#000" stroke-width="0.24">4</text>
<text transform="translate(453.46 28.2) scale(0.9733 1)" font-size="26.5" fill="#000" stroke="#000" stroke-width="0.35"><tspan x="0">1</tspan><tspan x="16.47">0</tspan></text><text transform="translate(486.26 18.4) scale(0.9945 1)" font-size="18.55" fill="#000" stroke="#000" stroke-width="0.24">0</text>
<text transform="translate(439.25 82.9) scale(0.9733 1)" font-size="26.5" fill="#000" stroke="#000" stroke-width="0.35"><tspan x="0">1</tspan><tspan x="16.47">0</tspan></text><text transform="translate(472.36 73.1) scale(1.2155 1)" font-size="18.55" fill="#000" stroke="#000" stroke-width="0.24">−</text><text transform="translate(486.86 73.1) scale(0.9498 1)" font-size="18.55" fill="#000" stroke="#000" stroke-width="0.24">1</text>
<text transform="translate(439.39 137.6) scale(0.9733 1)" font-size="26.5" fill="#000" stroke="#000" stroke-width="0.35"><tspan x="0">1</tspan><tspan x="16.47">0</tspan></text><text transform="translate(472.5 127.8) scale(1.2155 1)" font-size="18.55" fill="#000" stroke="#000" stroke-width="0.24">−</text><text transform="translate(486.81 127.8) scale(0.9586 1)" font-size="18.55" fill="#000" stroke="#000" stroke-width="0.24">2</text>
<text transform="translate(439.04 192.3) scale(0.9733 1)" font-size="26.5" fill="#000" stroke="#000" stroke-width="0.35"><tspan x="0">1</tspan><tspan x="16.47">0</tspan></text><text transform="translate(472.15 182.5) scale(1.2155 1)" font-size="18.55" fill="#000" stroke="#000" stroke-width="0.24">−</text><text transform="translate(486.73 182.5) scale(0.9551 1)" font-size="18.55" fill="#000" stroke="#000" stroke-width="0.24">3</text>
<text transform="translate(438.62 247) scale(0.9733 1)" font-size="26.5" fill="#000" stroke="#000" stroke-width="0.35"><tspan x="0">1</tspan><tspan x="16.47">0</tspan></text><text transform="translate(471.73 237.2) scale(1.2155 1)" font-size="18.55" fill="#000" stroke="#000" stroke-width="0.24">−</text><text transform="translate(486.08 237.2) scale(0.9946 1)" font-size="18.55" fill="#000" stroke="#000" stroke-width="0.24">4</text>
<rect x="732.3" y="8.5" width="76.3" height="46.5" fill="#eeeeee" stroke="#222" stroke-width="1.3"/>
<text transform="translate(741.36 39.2) scale(0.9328 1)" font-size="31.8" fill="#000" stroke="#000" stroke-width="0.42"><tspan x="0" y="-2.01" font-size="28.68">(</tspan><tspan x="12.15" y="0">A</tspan></text>
<text transform="translate(773.81 43.8) scale(0.9586 1)" font-size="22.26" fill="#000" stroke="#000" stroke-width="0.29">2</text>
<text transform="translate(789.46 39.2) scale(0.8841 1)" font-size="31.8" fill="#000" stroke="#000" stroke-width="0.42"><tspan x="0" y="-2.01" font-size="28.68">)</tspan></text>
<rect x="520.3" y="149.2" width="146.9" height="90.7" rx="4" ry="4" fill="#fff" fill-opacity="0.8" stroke="#ccc" stroke-width="1.4"/>
<path d="M549.4 160.18l4.22 8.45h-8.45z" fill="none" stroke="#ff0000" stroke-width="2.2"/>
<text transform="translate(590.58 172.3) scale(1.0599 1)" font-size="22.43" fill="#ff0000" stroke="#ff0000" stroke-width="0.13"><tspan x="0">R</tspan><tspan x="15.77">e</tspan><tspan x="29.15">d</tspan></text>
<path d="M545.17 192.7a4.22 4.22 0 1 0 8.45 0a4.22 4.22 0 1 0 -8.45 0z" fill="none" stroke="#1f1f1f" stroke-width="2.2"/>
<text transform="translate(591.05 200.6) scale(1.0192 1)" font-size="22.43" fill="#1f1f1f" stroke="#1f1f1f" stroke-width="0.13"><tspan x="0">B</tspan><tspan x="15.88">l</tspan><tspan x="21.37">a</tspan><tspan x="35.68">c</tspan><tspan x="48.89">k</tspan></text>
<path d="M545.17 216.68h8.45v8.45h-8.45z" fill="none" stroke="#008000" stroke-width="2.2"/>
<text transform="translate(590.13 229) scale(1.0990 1)" font-size="22.43" fill="#008000" stroke="#008000" stroke-width="0.13"><tspan x="0">G</tspan><tspan x="17.79">r</tspan><tspan x="25.68">e</tspan><tspan x="38.55">e</tspan><tspan x="51.62">n</tspan></text>
</g>
<g id="panel-B">
<g clip-path="url(#cB)" fill="none" stroke-width="2.2" stroke-linejoin="miter">
<path d="M898.07 16.94a4.22 4.22 0 1 0 8.45 0a4.22 4.22 0 1 0 -8.45 0zM906.03 18.16a4.22 4.22 0 1 0 8.45 0a4.22 4.22 0 1 0 -8.45 0zM913.99 19.75a4.22 4.22 0 1 0 8.45 0a4.22 4.22 0 1 0 -8.45 0zM921.95 24.06a4.22 4.22 0 1 0 8.45 0a4.22 4.22 0 1 0 -8.45 0zM929.91 27.66a4.22 4.22 0 1 0 8.45 0a4.22 4.22 0 1 0 -8.45 0zM937.87 27.76a4.22 4.22 0 1 0 8.45 0a4.22 4.22 0 1 0 -8.45 0zM945.83 29.53a4.22 4.22 0 1 0 8.45 0a4.22 4.22 0 1 0 -8.45 0zM953.79 36.3a4.22 4.22 0 1 0 8.45 0a4.22 4.22 0 1 0 -8.45 0zM961.75 38.04a4.22 4.22 0 1 0 8.45 0a4.22 4.22 0 1 0 -8.45 0zM969.71 38.96a4.22 4.22 0 1 0 8.45 0a4.22 4.22 0 1 0 -8.45 0zM977.67 47.46a4.22 4.22 0 1 0 8.45 0a4.22 4.22 0 1 0 -8.45 0zM985.63 49.94a4.22 4.22 0 1 0 8.45 0a4.22 4.22 0 1 0 -8.45 0zM993.59 52.79a4.22 4.22 0 1 0 8.45 0a4.22 4.22 0 1 0 -8.45 0zM1001.55 60.33a4.22 4.22 0 1 0 8.45 0a4.22 4.22 0 1 0 -8.45 0zM1009.51 63.9a4.22 4.22 0 1 0 8.45 0a4.22 4.22 0 1 0 -8.45 0zM1017.47 70.96a4.22 4.22 0 1 0 8.45 0a4.22 4.22 0 1 0 -8.45 0zM1025.43 77.98a4.22 4.22 0 1 0 8.45 0a4.22 4.22 0 1 0 -8.45 0zM1033.39 80.83a4.22 4.22 0 1 0 8.45 0a4.22 4.22 0 1 0 -8.45 0zM1041.36 88.11a4.22 4.22 0 1 0 8.45 0a4.22 4.22 0 1 0 -8.45 0zM1049.32 94.23a4.22 4.22 0 1 0 8.45 0a4.22 4.22 0 1 0 -8.45 0zM1057.28 100.81a4.22 4.22 0 1 0 8.45 0a4.22 4.22 0 1 0 -8.45 0zM1065.24 106.04a4.22 4.22 0 1 0 8.45 0a4.22 4.22 0 1 0 -8.45 0zM1073.2 111.5a4.22 4.22 0 1 0 8.45 0a4.22 4.22 0 1 0 -8.45 0zM1081.15 118.47a4.22 4.22 0 1 0 8.45 0a4.22 4.22 0 1 0 -8.45 0zM1089.12 127.68a4.22 4.22 0 1 0 8.45 0a4.22 4.22 0 1 0 -8.45 0zM1097.08 134.87a4.22 4.22 0 1 0 8.45 0a4.22 4.22 0 1 0 -8.45 0zM1105.04 141.72a4.22 4.22 0 1 0 8.45 0a4.22 4.22 0 1 0 -8.45 0zM1113 149.17a4.22 4.22 0 1 0 8.45 0a4.22 4.22 0 1 0 -8.45 0zM1120.95 156.3a4.22 4.22 0 1 0 8.45 0a4.22 4.22 0 1 0 -8.45 0zM1130.48 160.8a4.22 4.22 0 1 0 8.45 0a4.22 4.22 0 1 0 -8.45 0zM1136.98 177a4.22 4.22 0 1 0 8.45 0a4.22 4.22 0 1 0 -8.45 0zM1144.58 181.8a4.22 4.22 0 1 0 8.45 0a4.22 4.22 0 1 0 -8.45 0zM1153.18 183.5a4.22 4.22 0 1 0 8.45 0a4.22 4.22 0 1 0 -8.45 0zM1161.78 202a4.22 4.22 0 1 0 8.45 0a4.22 4.22 0 1 0 -8.45 0zM1170.78 213a4.22 4.22 0 1 0 8.45 0a4.22 4.22 0 1 0 -8.45 0zM1178.78 221.4a4.22 4.22 0 1 0 8.45 0a4.22 4.22 0 1 0 -8.45 0z" stroke="#0000ff"/>
<path d="M902.3 13.58l4.22 8.45h-8.45zM910.26 15.28l4.22 8.45h-8.45zM918.22 16.76l4.22 8.45h-8.45zM926.18 21.39l4.22 8.45h-8.45zM934.14 24.99l4.22 8.45h-8.45zM942.1 25.27l4.22 8.45h-8.45zM950.06 26.59l4.22 8.45h-8.45zM958.02 33.62l4.22 8.45h-8.45zM965.98 35.34l4.22 8.45h-8.45zM973.94 36.31l4.22 8.45h-8.45zM981.9 45.11l4.22 8.45h-8.45zM989.86 47.7l4.22 8.45h-8.45zM997.82 51.12l4.22 8.45h-8.45zM1005.78 59.07l4.22 8.45h-8.45zM1013.74 62.49l4.22 8.45h-8.45zM1021.7 68.73l4.22 8.45h-8.45zM1029.66 76.26l4.22 8.45h-8.45zM1037.62 77.9l4.22 8.45h-8.45zM1045.58 84.26l4.22 8.45h-8.45zM1053.54 91.07l4.22 8.45h-8.45zM1061.5 97.73l4.22 8.45h-8.45zM1069.46 104.83l4.22 8.45h-8.45zM1077.42 111.55l4.22 8.45h-8.45zM1085.38 118l4.22 8.45h-8.45zM1093.34 126.58l4.22 8.45h-8.45zM1101.3 133.79l4.22 8.45h-8.45zM1109.26 141.14l4.22 8.45h-8.45zM1117.22 149.71l4.22 8.45h-8.45zM1125.18 157.52l4.22 8.45h-8.45zM1133.14 167.08l4.22 8.45h-8.45zM1141.1 176.58l4.22 8.45h-8.45zM1153.1 185.78l4.22 8.45h-8.45zM1160.7 198.78l4.22 8.45h-8.45zM1167.2 208.58l4.22 8.45h-8.45zM1175.8 215.08l4.22 8.45h-8.45zM1187.3 232.38l4.22 8.45h-8.45z" stroke="#ff0000"/>
<path d="M901.57 14.28h8.45v8.45h-8.45zM909.53 15.58h8.45v8.45h-8.45zM917.49 17.09h8.45v8.45h-8.45zM925.45 22.13h8.45v8.45h-8.45zM933.41 25.3h8.45v8.45h-8.45zM941.37 25.31h8.45v8.45h-8.45zM949.33 26.08h8.45v8.45h-8.45zM957.29 32.78h8.45v8.45h-8.45zM965.25 34.59h8.45v8.45h-8.45zM973.21 36.13h8.45v8.45h-8.45zM981.17 45.08h8.45v8.45h-8.45zM989.13 47.33h8.45v8.45h-8.45zM997.09 49.43h8.45v8.45h-8.45zM1005.05 56.97h8.45v8.45h-8.45zM1013.01 60.56h8.45v8.45h-8.45zM1020.97 67.35h8.45v8.45h-8.45zM1028.93 74.54h8.45v8.45h-8.45zM1036.89 75.79h8.45v8.45h-8.45zM1044.86 84.26h8.45v8.45h-8.45zM1052.82 90.46h8.45v8.45h-8.45zM1060.78 96.64h8.45v8.45h-8.45zM1068.74 103.16h8.45v8.45h-8.45zM1076.7 109.53h8.45v8.45h-8.45zM1084.65 115.6h8.45v8.45h-8.45zM1092.62 124.09h8.45v8.45h-8.45zM1100.58 130.48h8.45v8.45h-8.45zM1108.54 137.38h8.45v8.45h-8.45zM1116.5 144.77h8.45v8.45h-8.45zM1124.45 152.73h8.45v8.45h-8.45zM1132.41 161.24h8.45v8.45h-8.45zM1140.38 169.52h8.45v8.45h-8.45zM1148.34 178.01h8.45v8.45h-8.45zM1156.3 186.97h8.45v8.45h-8.45zM1164.26 197.24h8.45v8.45h-8.45zM1172.22 206.85h8.45v8.45h-8.45zM1180.28 210.08h8.45v8.45h-8.45z" stroke="#008000"/>
<path d="M902.3 11.52l5.98 5.98l-5.98 5.98l-5.98 -5.98zM910.26 12.52l5.98 5.98l-5.98 5.98l-5.98 -5.98zM918.22 13.52l5.98 5.98l-5.98 5.98l-5.98 -5.98zM926.18 19.02l5.98 5.98l-5.98 5.98l-5.98 -5.98zM934.14 23.02l5.98 5.98l-5.98 5.98l-5.98 -5.98zM942.1 22.02l5.98 5.98l-5.98 5.98l-5.98 -5.98zM950.06 23.02l5.98 5.98l-5.98 5.98l-5.98 -5.98zM958.02 31.52l5.98 5.98l-5.98 5.98l-5.98 -5.98zM965.98 32.52l5.98 5.98l-5.98 5.98l-5.98 -5.98zM973.94 32.52l5.98 5.98l-5.98 5.98l-5.98 -5.98zM981.9 43.52l5.98 5.98l-5.98 5.98l-5.98 -5.98zM989.86 45.02l5.98 5.98l-5.98 5.98l-5.98 -5.98zM997.82 47.02l5.98 5.98l-5.98 5.98l-5.98 -5.98zM1005.78 56.02l5.98 5.98l-5.98 5.98l-5.98 -5.98zM1013.74 59.02l5.98 5.98l-5.98 5.98l-5.98 -5.98zM1021.7 66.02l5.98 5.98l-5.98 5.98l-5.98 -5.98zM1029.66 74.02l5.98 5.98l-5.98 5.98l-5.98 -5.98zM1037.62 82.22l5.98 5.98l-5.98 5.98l-5.98 -5.98zM1045.58 86.52l5.98 5.98l-5.98 5.98l-5.98 -5.98zM1053.54 91.92l5.98 5.98l-5.98 5.98l-5.98 -5.98zM1061.5 106.72l5.98 5.98l-5.98 5.98l-5.98 -5.98zM1069.46 110.82l5.98 5.98l-5.98 5.98l-5.98 -5.98zM1077.42 115.32l5.98 5.98l-5.98 5.98l-5.98 -5.98zM1085.38 127.72l5.98 5.98l-5.98 5.98l-5.98 -5.98zM1093.34 135.32l5.98 5.98l-5.98 5.98l-5.98 -5.98zM1101.3 147.22l5.98 5.98l-5.98 5.98l-5.98 -5.98zM1109.26 153.72l5.98 5.98l-5.98 5.98l-5.98 -5.98zM1117.22 191.62l5.98 5.98l-5.98 5.98l-5.98 -5.98zM1125.18 195.92l5.98 5.98l-5.98 5.98l-5.98 -5.98zM1133.14 200.92l5.98 5.98l-5.98 5.98l-5.98 -5.98zM1149.2 227.32l5.98 5.98l-5.98 5.98l-5.98 -5.98z" stroke="#ffd700"/>
<path d="M902.3 17.3L904.35 17.97L906.39 18.63L908.44 19.3L910.48 19.97L912.53 20.63L914.58 21.3L916.62 21.97L918.67 22.63L920.71 23.3L922.76 23.97L924.81 24.63L926.85 25.3L928.9 25.97L930.94 26.63L932.99 27.28L935.04 27.92L937.08 28.56L939.13 29.2L941.17 29.84L943.22 30.48L945.27 31.13L947.31 31.8L949.36 32.48L951.41 33.17L953.45 33.89L955.5 34.63L957.54 35.39L959.59 36.17L961.64 36.96L963.68 37.78L965.73 38.61L967.77 39.46L969.82 40.33L971.87 41.22L973.91 42.12L975.96 43.04L978 43.98L980.05 44.93L982.1 45.9L984.14 46.89L986.19 47.91L988.23 48.96L990.28 50.02L992.33 51.11L994.37 52.22L996.42 53.35L998.46 54.51L1000.51 55.68L1002.56 56.86L1004.6 58.07L1006.65 59.28L1008.69 60.51L1010.74 61.76L1012.79 63.02L1014.83 64.3L1016.88 65.6L1018.92 66.92L1020.97 68.27L1023.02 69.63L1025.06 71.02L1027.11 72.44L1029.15 73.88L1031.2 75.36L1033.25 76.86L1035.29 78.39L1037.34 79.97L1039.38 81.64L1041.43 83.36L1043.48 85.14L1045.52 86.95L1047.57 88.79L1049.62 90.62L1051.66 92.45L1053.71 94.25L1055.75 96L1057.8 97.71L1059.85 99.39L1061.89 101.04L1063.94 102.68L1065.98 104.31L1068.03 105.94L1070.08 107.56L1072.12 109.19L1074.17 110.83L1076.21 112.49L1078.26 114.17L1080.31 115.86L1082.35 117.55L1084.4 119.24L1086.44 120.94L1088.49 122.66L1090.54 124.38L1092.58 126.12L1094.63 127.88L1096.67 129.66L1098.72 131.46L1100.77 133.29L1102.81 135.13L1104.86 137L1106.9 138.88L1108.95 140.78L1111 142.7L1113.04 144.65L1115.09 146.62L1117.13 148.62L1119.18 150.66L1121.23 152.72L1123.27 154.82L1125.32 156.97L1127.36 159.16L1129.41 161.4L1131.46 163.66L1133.5 165.94L1135.55 168.24L1137.59 170.55L1139.64 172.87L1141.69 175.18L1143.73 177.49L1145.78 179.78L1147.83 182.07L1149.87 184.37L1151.92 186.67L1153.96 188.98L1156.01 191.31L1158.06 193.67L1160.1 196.05L1162.15 198.47L1164.19 200.92L1166.24 203.42L1168.29 205.95L1170.33 208.51L1172.38 211.1L1174.42 213.73L1176.47 216.38L1178.52 219.07L1180.56 221.78L1182.61 224.53L1184.65 227.3L1186.7 230.1" stroke="#8b0000" stroke-width="1.75"/>
<path d="M902.3 16.5L904.33 17.16L906.35 17.82L908.38 18.48L910.41 19.14L912.43 19.8L914.46 20.46L916.49 21.12L918.51 21.78L920.54 22.44L922.57 23.1L924.59 23.76L926.62 24.42L928.65 25.08L930.67 25.74L932.7 26.39L934.73 27.02L936.75 27.66L938.78 28.29L940.81 28.92L942.83 29.56L944.86 30.2L946.89 30.86L948.91 31.53L950.94 32.21L952.97 32.91L954.99 33.64L957.02 34.39L959.05 35.16L961.07 35.94L963.1 36.75L965.13 37.57L967.15 38.4L969.18 39.26L971.21 40.13L973.23 41.02L975.26 41.92L977.28 42.85L979.31 43.78L981.34 44.74L983.36 45.71L985.39 46.71L987.42 47.74L989.44 48.78L991.47 49.85L993.5 50.95L995.52 52.06L997.55 53.19L999.58 54.34L1001.6 55.51L1003.63 56.69L1005.66 57.89L1007.68 59.11L1009.71 60.33L1011.74 61.57L1013.76 62.83L1015.79 64.11L1017.82 65.41L1019.84 66.73L1021.87 68.07L1023.9 69.43L1025.92 70.82L1027.95 72.23L1029.98 73.67L1032 75.14L1034.03 76.64L1036.06 78.17L1038.08 79.77L1040.11 81.44L1042.14 83.17L1044.16 84.95L1046.19 86.75L1048.22 88.57L1050.24 90.38L1052.27 92.19L1054.3 93.96L1056.32 95.68L1058.35 97.36L1060.38 99.02L1062.4 100.66L1064.43 102.28L1066.46 103.89L1068.48 105.5L1070.51 107.11L1072.54 108.72L1074.56 110.35L1076.59 112L1078.62 113.66L1080.64 115.33L1082.67 117.01L1084.7 118.69L1086.72 120.38L1088.75 122.07L1090.78 123.78L1092.8 125.51L1094.83 127.25L1096.86 129.02L1098.88 130.8L1100.91 132.62L1102.94 134.44L1104.96 136.29L1106.99 138.15L1109.02 140.04L1111.04 141.94L1113.07 143.87L1115.09 145.83L1117.12 147.81L1119.15 149.82L1121.17 151.87L1123.2 153.95L1125.23 156.07L1127.25 158.25L1129.28 160.45L1131.31 162.69L1133.33 164.95L1135.36 167.23L1137.39 169.52L1139.41 171.81L1141.44 174.11L1143.47 176.39L1145.49 178.67L1147.52 180.94L1149.55 183.23L1151.57 185.52L1153.6 187.82L1155.63 190.13L1157.65 192.46L1159.68 194.81L1161.71 197.18L1163.73 199.58L1165.76 202.02L1167.79 204.47L1169.81 206.96L1171.84 209.46L1173.87 212L1175.89 214.55L1177.92 217.13L1179.95 219.73L1181.97 222.36L1184 225" stroke="#00008b" stroke-width="1.75" stroke-dasharray="1.75 2.89"/>
<path d="M902.3 17.3L904.34 17.97L906.38 18.64L908.42 19.31L910.46 19.97L912.51 20.64L914.55 21.31L916.59 21.97L918.63 22.64L920.67 23.3L922.71 23.96L924.75 24.62L926.79 25.29L928.83 25.95L930.87 26.6L932.92 27.25L934.96 27.88L937 28.52L939.04 29.15L941.08 29.78L943.12 30.41L945.16 31.05L947.2 31.7L949.24 32.37L951.28 33.04L953.33 33.73L955.37 34.45L957.41 35.18L959.45 35.92L961.49 36.68L963.53 37.45L965.57 38.23L967.61 39.03L969.65 39.84L971.69 40.67L973.74 41.51L975.78 42.37L977.82 43.25L979.86 44.15L981.9 45.06L983.94 46L985.98 46.97L988.02 47.96L990.06 48.97L992.1 50.01L994.15 51.07L996.19 52.15L998.23 53.25L1000.27 54.36L1002.31 55.5L1004.35 56.65L1006.39 57.81L1008.43 58.99L1010.47 60.19L1012.51 61.4L1014.56 62.62L1016.6 63.87L1018.64 65.14L1020.68 66.43L1022.72 67.74L1024.76 69.07L1026.8 70.43L1028.84 71.82L1030.88 73.24L1032.92 74.69L1034.97 76.16L1037.01 77.68L1039.05 79.28L1041.09 80.95L1043.13 82.66L1045.17 84.42L1047.21 86.2L1049.25 87.98L1051.29 89.76L1053.33 91.51L1055.38 93.23L1057.42 94.89L1059.46 96.52L1061.5 98.13L1063.54 99.72L1065.58 101.3L1067.62 102.87L1069.66 104.44L1071.7 106.02L1073.74 107.61L1075.79 109.21L1077.83 110.83L1079.87 112.46L1081.91 114.1L1083.95 115.73L1085.99 117.38L1088.03 119.03L1090.07 120.69L1092.11 122.37L1094.15 124.07L1096.2 125.8L1098.24 127.56L1100.28 129.35L1102.32 131.16L1104.36 133L1106.4 134.87L1108.44 136.76L1110.48 138.68L1112.52 140.62L1114.56 142.59L1116.61 144.59L1118.65 146.62L1120.69 148.67L1122.73 150.76L1124.77 152.89L1126.81 155.07L1128.85 157.28L1130.89 159.53L1132.93 161.8L1134.97 164.1L1137.02 166.4L1139.06 168.71L1141.1 171.02L1143.14 173.32L1145.18 175.62L1147.22 177.94L1149.26 180.28L1151.3 182.63L1153.34 184.99L1155.38 187.35L1157.43 189.71L1159.47 192.06L1161.51 194.41L1163.55 196.75L1165.59 199.07L1167.63 201.38L1169.67 203.69L1171.71 206L1173.75 208.3L1175.79 210.59L1177.84 212.88L1179.88 215.17L1181.92 217.45L1183.96 219.73L1186 222" stroke="#006400" stroke-width="1.75" stroke-dasharray="11.2 2.8 1.75 2.8"/>
<path d="M902.3 17.3L904.06 17.9L905.82 18.49L907.57 19.09L909.33 19.69L911.09 20.3L912.85 20.9L914.6 21.5L916.36 22.11L918.12 22.71L919.88 23.32L921.63 23.93L923.39 24.54L925.15 25.15L926.91 25.77L928.66 26.38L930.42 26.99L932.18 27.6L933.94 28.2L935.69 28.8L937.45 29.39L939.21 29.99L940.97 30.59L942.72 31.2L944.48 31.81L946.24 32.43L948 33.06L949.75 33.7L951.51 34.36L953.27 35.04L955.03 35.73L956.78 36.44L958.54 37.17L960.3 37.92L962.06 38.68L963.81 39.46L965.57 40.25L967.33 41.06L969.09 41.89L970.84 42.72L972.6 43.57L974.36 44.44L976.12 45.32L977.87 46.21L979.63 47.11L981.39 48.02L983.15 48.95L984.91 49.89L986.66 50.85L988.42 51.82L990.18 52.82L991.94 53.82L993.69 54.85L995.45 55.89L997.21 56.95L998.97 58.03L1000.72 59.12L1002.48 60.23L1004.24 61.36L1006 62.5L1007.75 63.67L1009.51 64.84L1011.27 66.04L1013.03 67.26L1014.78 68.49L1016.54 69.74L1018.3 71.02L1020.06 72.32L1021.81 73.64L1023.57 74.98L1025.33 76.35L1027.09 77.75L1028.84 79.17L1030.6 80.62L1032.36 82.1L1034.12 83.61L1035.87 85.15L1037.63 86.75L1039.39 88.4L1041.15 90.11L1042.9 91.87L1044.66 93.67L1046.42 95.5L1048.18 97.36L1049.93 99.25L1051.69 101.15L1053.45 103.06L1055.21 104.98L1056.96 106.89L1058.72 108.81L1060.48 110.75L1062.24 112.71L1063.99 114.69L1065.75 116.68L1067.51 118.7L1069.27 120.73L1071.03 122.79L1072.78 124.86L1074.54 126.95L1076.3 129.07L1078.06 131.2L1079.81 133.36L1081.57 135.55L1083.33 137.76L1085.09 140L1086.84 142.26L1088.6 144.55L1090.36 146.85L1092.12 149.16L1093.87 151.49L1095.63 153.84L1097.39 156.19L1099.15 158.55L1100.9 160.92L1102.66 163.3L1104.42 165.69L1106.18 168.1L1107.93 170.52L1109.69 172.96L1111.45 175.41L1113.21 177.87L1114.96 180.36L1116.72 182.85L1118.48 185.36L1120.24 187.89L1121.99 190.43L1123.75 192.98L1125.51 195.54L1127.27 198.12L1129.02 200.71L1130.78 203.32L1132.54 205.94L1134.3 208.59L1136.05 211.25L1137.81 213.94L1139.57 216.65L1141.33 219.39L1143.08 222.16L1144.84 224.99L1146.6 227.9" stroke="#daa520" stroke-width="1.75" stroke-dasharray="11.2 2.8 1.75 2.8"/>
</g>
<path d="M896.2 250.7v8.4M975.83 250.7v8.4M1055.46 250.7v8.4M1135.09 250.7v8.4M893 17.05h-8.4M893 66.35h-8.4M893 115.65h-8.4M893 164.95h-8.4M893 214.25h-8.4" stroke="#000" stroke-width="1.7" fill="none"/>
<rect x="893" y="2" width="306.2" height="248.7" fill="none" stroke="#000" stroke-width="1.85"/>
<text transform="translate(873.4 282.9) scale(0.9733 1)" font-size="26.5" fill="#000" stroke="#000" stroke-width="0.35"><tspan x="0">1</tspan><tspan x="16.47">0</tspan></text><text transform="translate(906.35 273.1) scale(0.9498 1)" font-size="18.55" fill="#000" stroke="#000" stroke-width="0.24">1</text>
<text transform="translate(953.03 282.9) scale(0.9733 1)" font-size="26.5" fill="#000" stroke="#000" stroke-width="0.35"><tspan x="0">1</tspan><tspan x="16.47">0</tspan></text><text transform="translate(985.78 273.1) scale(0.9586 1)" font-size="18.55" fill="#000" stroke="#000" stroke-width="0.24">2</text>
<text transform="translate(1032.66 282.9) scale(0.9733 1)" font-size="26.5" fill="#000" stroke="#000" stroke-width="0.35"><tspan x="0">1</tspan><tspan x="16.47">0</tspan></text><text transform="translate(1065.68 273.1) scale(0.9551 1)" font-size="18.55" fill="#000" stroke="#000" stroke-width="0.24">3</text>
<text transform="translate(1112.29 282.9) scale(0.9733 1)" font-size="26.5" fill="#000" stroke="#000" stroke-width="0.35"><tspan x="0">1</tspan><tspan x="16.47">0</tspan></text><text transform="translate(1145.09 273.1) scale(0.9946 1)" font-size="18.55" fill="#000" stroke="#000" stroke-width="0.24">4</text>
<text transform="translate(837.46 26.75) scale(0.9733 1)" font-size="26.5" fill="#000" stroke="#000" stroke-width="0.35"><tspan x="0">1</tspan><tspan x="16.47">0</tspan></text><text transform="translate(870.26 16.95) scale(0.9945 1)" font-size="18.55" fill="#000" stroke="#000" stroke-width="0.24">0</text>
<text transform="translate(823.25 76.05) scale(0.9733 1)" font-size="26.5" fill="#000" stroke="#000" stroke-width="0.35"><tspan x="0">1</tspan><tspan x="16.47">0</tspan></text><text transform="translate(856.36 66.25) scale(1.2155 1)" font-size="18.55" fill="#000" stroke="#000" stroke-width="0.24">−</text><text transform="translate(870.86 66.25) scale(0.9498 1)" font-size="18.55" fill="#000" stroke="#000" stroke-width="0.24">1</text>
<text transform="translate(823.39 125.35) scale(0.9733 1)" font-size="26.5" fill="#000" stroke="#000" stroke-width="0.35"><tspan x="0">1</tspan><tspan x="16.47">0</tspan></text><text transform="translate(856.5 115.55) scale(1.2155 1)" font-size="18.55" fill="#000" stroke="#000" stroke-width="0.24">−</text><text transform="translate(870.81 115.55) scale(0.9586 1)" font-size="18.55" fill="#000" stroke="#000" stroke-width="0.24">2</text>
<text transform="translate(823.04 174.65) scale(0.9733 1)" font-size="26.5" fill="#000" stroke="#000" stroke-width="0.35"><tspan x="0">1</tspan><tspan x="16.47">0</tspan></text><text transform="translate(856.15 164.85) scale(1.2155 1)" font-size="18.55" fill="#000" stroke="#000" stroke-width="0.24">−</text><text transform="translate(870.73 164.85) scale(0.9551 1)" font-size="18.55" fill="#000" stroke="#000" stroke-width="0.24">3</text>
<text transform="translate(822.62 223.95) scale(0.9733 1)" font-size="26.5" fill="#000" stroke="#000" stroke-width="0.35"><tspan x="0">1</tspan><tspan x="16.47">0</tspan></text><text transform="translate(855.73 214.15) scale(1.2155 1)" font-size="18.55" fill="#000" stroke="#000" stroke-width="0.24">−</text><text transform="translate(870.08 214.15) scale(0.9946 1)" font-size="18.55" fill="#000" stroke="#000" stroke-width="0.24">4</text>
<rect x="1131" y="8.5" width="61.5" height="45.7" fill="#eeeeee" stroke="#222" stroke-width="1.3"/>
<text transform="translate(1140.23 38.75) scale(0.9012 1)" font-size="31.8" fill="#000" stroke="#000" stroke-width="0.42"><tspan x="0" y="-2.01" font-size="28.68">(</tspan><tspan x="12.78" y="0">B</tspan><tspan x="37.24" y="-2.01" font-size="28.68">)</tspan></text>
<rect x="903.9" y="120.9" width="147.7" height="118.7" rx="4" ry="4" fill="#fff" fill-opacity="0.8" stroke="#ccc" stroke-width="1.4"/>
<path d="M929.17 136.4a4.22 4.22 0 1 0 8.45 0a4.22 4.22 0 1 0 -8.45 0z" fill="none" stroke="#0000ff" stroke-width="2.2"/>
<text transform="translate(974.79 143.9) scale(1.0645 1)" font-size="22.43" fill="#0000ff" stroke="#0000ff" stroke-width="0.13"><tspan x="0">B</tspan><tspan x="15.43">l</tspan><tspan x="21.49">u</tspan><tspan x="35.08">e</tspan></text>
<path d="M933.4 160.18l4.22 8.45h-8.45z" fill="none" stroke="#ff0000" stroke-width="2.2"/>
<text transform="translate(974.68 172.2) scale(1.0599 1)" font-size="22.43" fill="#ff0000" stroke="#ff0000" stroke-width="0.13"><tspan x="0">R</tspan><tspan x="15.77">e</tspan><tspan x="29.15">d</tspan></text>
<path d="M929.17 188.47h8.45v8.45h-8.45z" fill="none" stroke="#008000" stroke-width="2.2"/>
<text transform="translate(974.23 200.2) scale(1.0990 1)" font-size="22.43" fill="#008000" stroke="#008000" stroke-width="0.13"><tspan x="0">G</tspan><tspan x="17.79">r</tspan><tspan x="25.68">e</tspan><tspan x="38.55">e</tspan><tspan x="51.62">n</tspan></text>
<path d="M933.4 214.92l5.98 5.98l-5.98 5.98l-5.98 -5.98z" fill="none" stroke="#ffd700" stroke-width="2.2"/>
<text transform="translate(974.56 228.5) scale(1.0592 1)" font-size="22.43" fill="#ffd700" stroke="#ffd700" stroke-width="0.13"><tspan x="0">G</tspan><tspan x="17.56">o</tspan><tspan x="30.95">l</tspan><tspan x="36.98">d</tspan></text>
</g>
<g id="panel-C">
<g clip-path="url(#cC)" fill="none" stroke-width="2.2" stroke-linejoin="miter">
<path d="M142.47 309.3a4.22 4.22 0 1 0 8.45 0a4.22 4.22 0 1 0 -8.45 0zM145.78 310a4.22 4.22 0 1 0 8.45 0a4.22 4.22 0 1 0 -8.45 0zM153.78 314a4.22 4.22 0 1 0 8.45 0a4.22 4.22 0 1 0 -8.45 0zM163.08 318a4.22 4.22 0 1 0 8.45 0a4.22 4.22 0 1 0 -8.45 0zM171.08 320a4.22 4.22 0 1 0 8.45 0a4.22 4.22 0 1 0 -8.45 0zM180.47 322a4.22 4.22 0 1 0 8.45 0a4.22 4.22 0 1 0 -8.45 0zM189.08 327.3a4.22 4.22 0 1 0 8.45 0a4.22 4.22 0 1 0 -8.45 0zM197.78 329.3a4.22 4.22 0 1 0 8.45 0a4.22 4.22 0 1 0 -8.45 0zM207.08 336.7a4.22 4.22 0 1 0 8.45 0a4.22 4.22 0 1 0 -8.45 0zM215.08 348a4.22 4.22 0 1 0 8.45 0a4.22 4.22 0 1 0 -8.45 0zM223.78 347.3a4.22 4.22 0 1 0 8.45 0a4.22 4.22 0 1 0 -8.45 0zM233.08 350.7a4.22 4.22 0 1 0 8.45 0a4.22 4.22 0 1 0 -8.45 0zM241.78 357.3a4.22 4.22 0 1 0 8.45 0a4.22 4.22 0 1 0 -8.45 0zM250.47 363.3a4.22 4.22 0 1 0 8.45 0a4.22 4.22 0 1 0 -8.45 0zM259.77 368a4.22 4.22 0 1 0 8.45 0a4.22 4.22 0 1 0 -8.45 0zM267.77 371.3a4.22 4.22 0 1 0 8.45 0a4.22 4.22 0 1 0 -8.45 0zM277.07 380.6a4.22 4.22 0 1 0 8.45 0a4.22 4.22 0 1 0 -8.45 0zM286.38 384.7a4.22 4.22 0 1 0 8.45 0a4.22 4.22 0 1 0 -8.45 0zM295.17 388.8a4.22 4.22 0 1 0 8.45 0a4.22 4.22 0 1 0 -8.45 0zM303.77 401.1a4.22 4.22 0 1 0 8.45 0a4.22 4.22 0 1 0 -8.45 0zM313.07 404.8a4.22 4.22 0 1 0 8.45 0a4.22 4.22 0 1 0 -8.45 0zM321.67 410.4a4.22 4.22 0 1 0 8.45 0a4.22 4.22 0 1 0 -8.45 0zM330.47 420.6a4.22 4.22 0 1 0 8.45 0a4.22 4.22 0 1 0 -8.45 0zM339.38 426.8a4.22 4.22 0 1 0 8.45 0a4.22 4.22 0 1 0 -8.45 0zM348.38 433.6a4.22 4.22 0 1 0 8.45 0a4.22 4.22 0 1 0 -8.45 0zM357.27 441.2a4.22 4.22 0 1 0 8.45 0a4.22 4.22 0 1 0 -8.45 0zM366.47 455a4.22 4.22 0 1 0 8.45 0a4.22 4.22 0 1 0 -8.45 0zM375.17 461.7a4.22 4.22 0 1 0 8.45 0a4.22 4.22 0 1 0 -8.45 0zM383.97 470a4.22 4.22 0 1 0 8.45 0a4.22 4.22 0 1 0 -8.45 0z" stroke="#0000ff"/>
<path d="M129.08 305.07h8.45v8.45h-8.45zM132.47 305.38h8.45v8.45h-8.45zM136.38 305.97h8.45v8.45h-8.45zM142.47 308.47h8.45v8.45h-8.45zM151.08 314.47h8.45v8.45h-8.45zM159.78 317.77h8.45v8.45h-8.45zM167.78 321.07h8.45v8.45h-8.45zM176.47 322.47h8.45v8.45h-8.45zM185.08 325.07h8.45v8.45h-8.45zM194.47 331.77h8.45v8.45h-8.45zM203.08 333.77h8.45v8.45h-8.45zM211.78 336.47h8.45v8.45h-8.45zM221.08 345.07h8.45v8.45h-8.45zM229.08 349.07h8.45v8.45h-8.45zM238.47 351.07h8.45v8.45h-8.45zM247.08 357.77h8.45v8.45h-8.45zM256.47 364.47h8.45v8.45h-8.45zM265.07 366.47h8.45v8.45h-8.45zM274.47 369.07h8.45v8.45h-8.45zM283.27 382.47h8.45v8.45h-8.45zM291.47 386.57h8.45v8.45h-8.45zM300.67 388.67h8.45v8.45h-8.45zM309.38 404.07h8.45v8.45h-8.45zM318.17 409.67h8.45v8.45h-8.45zM327.47 412.27h8.45v8.45h-8.45zM336.07 422.57h8.45v8.45h-8.45zM344.88 433.88h8.45v8.45h-8.45zM354.17 438.97h8.45v8.45h-8.45zM362.77 446.17h8.45v8.45h-8.45zM372.07 462.27h8.45v8.45h-8.45zM380.88 467.77h8.45v8.45h-8.45zM389.67 474.57h8.45v8.45h-8.45zM398.77 492.47h8.45v8.45h-8.45zM407.57 500.67h8.45v8.45h-8.45zM416.47 507.47h8.45v8.45h-8.45z" stroke="#ff0000"/>
<path d="M133.3 309.5L135.37 309.99L137.44 310.49L139.51 311.01L141.58 311.54L143.65 312.09L145.72 312.64L147.79 313.21L149.86 313.79L151.93 314.39L154.01 314.99L156.08 315.61L158.15 316.23L160.22 316.87L162.29 317.51L164.36 318.17L166.43 318.85L168.5 319.53L170.57 320.23L172.64 320.95L174.71 321.69L176.78 322.44L178.85 323.2L180.92 323.99L182.99 324.8L185.06 325.62L187.13 326.47L189.2 327.35L191.27 328.25L193.34 329.19L195.42 330.15L197.49 331.14L199.56 332.15L201.63 333.17L203.7 334.21L205.77 335.26L207.84 336.32L209.91 337.39L211.98 338.47L214.05 339.55L216.12 340.64L218.19 341.76L220.26 342.89L222.33 344.03L224.4 345.19L226.47 346.36L228.54 347.55L230.61 348.75L232.68 349.96L234.75 351.17L236.83 352.4L238.9 353.64L240.97 354.88L243.04 356.15L245.11 357.43L247.18 358.72L249.25 360.04L251.32 361.36L253.39 362.69L255.46 364.04L257.53 365.39L259.6 366.74L261.67 368.1L263.74 369.46L265.81 370.83L267.88 372.22L269.95 373.61L272.02 375.01L274.09 376.42L276.16 377.84L278.24 379.27L280.31 380.71L282.38 382.17L284.45 383.63L286.52 385.1L288.59 386.58L290.66 388.07L292.73 389.58L294.8 391.1L296.87 392.64L298.94 394.2L301.01 395.77L303.08 397.37L305.15 398.99L307.22 400.62L309.29 402.27L311.36 403.94L313.43 405.62L315.5 407.31L317.57 409L319.65 410.71L321.72 412.42L323.79 414.14L325.86 415.87L327.93 417.62L330 419.37L332.07 421.14L334.14 422.92L336.21 424.7L338.28 426.5L340.35 428.31L342.42 430.12L344.49 431.94L346.56 433.76L348.63 435.6L350.7 437.45L352.77 439.31L354.84 441.2L356.91 443.11L358.98 445.04L361.06 447L363.13 448.99L365.2 451.01L367.27 453.05L369.34 455.12L371.41 457.2L373.48 459.3L375.55 461.41L377.62 463.54L379.69 465.68L381.76 467.81L383.83 469.94L385.9 472.08L387.97 474.26L390.04 476.5L392.11 478.82L394.18 481.26L396.25 483.89L398.32 486.64L400.39 489.43L402.47 492.16L404.54 494.75L406.61 497.24L408.68 499.67L410.75 502.09L412.82 504.57L414.89 507.14L416.96 509.77L419.03 512.46L421.1 515.2" stroke="#8b0000" stroke-width="2.2" stroke-dasharray="14.08 3.52 2.2 3.52"/>
<path d="M145.3 310L147.05 310.47L148.79 310.94L150.54 311.43L152.29 311.93L154.04 312.44L155.78 312.96L157.53 313.49L159.28 314.03L161.03 314.58L162.77 315.14L164.52 315.71L166.27 316.29L168.02 316.88L169.76 317.47L171.51 318.07L173.26 318.69L175.01 319.31L176.75 319.94L178.5 320.58L180.25 321.23L182 321.9L183.74 322.57L185.49 323.26L187.24 323.97L188.99 324.68L190.73 325.41L192.48 326.15L194.23 326.9L195.98 327.67L197.72 328.46L199.47 329.26L201.22 330.07L202.97 330.91L204.71 331.77L206.46 332.66L208.21 333.56L209.96 334.48L211.7 335.42L213.45 336.38L215.2 337.35L216.95 338.33L218.69 339.32L220.44 340.33L222.19 341.35L223.94 342.37L225.68 343.4L227.43 344.44L229.18 345.51L230.93 346.62L232.67 347.74L234.42 348.88L236.17 350.03L237.92 351.17L239.66 352.29L241.41 353.39L243.16 354.48L244.91 355.57L246.65 356.65L248.4 357.72L250.15 358.8L251.9 359.88L253.64 360.97L255.39 362.06L257.14 363.16L258.89 364.28L260.63 365.41L262.38 366.55L264.13 367.7L265.88 368.86L267.62 370.03L269.37 371.2L271.12 372.38L272.87 373.57L274.61 374.77L276.36 375.97L278.11 377.18L279.86 378.4L281.6 379.62L283.35 380.85L285.1 382.09L286.85 383.33L288.59 384.58L290.34 385.84L292.09 387.11L293.84 388.39L295.58 389.68L297.33 390.99L299.08 392.3L300.83 393.63L302.57 394.97L304.32 396.33L306.07 397.71L307.82 399.09L309.56 400.49L311.31 401.9L313.06 403.31L314.81 404.74L316.55 406.17L318.3 407.6L320.05 409.04L321.8 410.48L323.54 411.94L325.29 413.4L327.04 414.86L328.79 416.34L330.53 417.82L332.28 419.31L334.03 420.81L335.78 422.32L337.52 423.84L339.27 425.36L341.02 426.89L342.77 428.44L344.51 430L346.26 431.57L348.01 433.15L349.76 434.75L351.5 436.35L353.25 437.98L355 439.62L356.75 441.29L358.49 442.97L360.24 444.66L361.99 446.35L363.74 448.05L365.48 449.75L367.23 451.45L368.98 453.14L370.73 454.82L372.47 456.49L374.22 458.14L375.97 459.79L377.72 461.44L379.46 463.07L381.21 464.71L382.96 466.34L384.71 467.96L386.45 469.58L388.2 471.2" stroke="#00008b" stroke-width="2.2"/>
</g>
<path d="M128.6 540.2v8.4M217.6 540.2v8.4M306.6 540.2v8.4M395.6 540.2v8.4M125 308.3h-8.4M125 366.28h-8.4M125 424.26h-8.4M125 482.24h-8.4M125 540.2h-8.4" stroke="#000" stroke-width="1.7" fill="none"/>
<rect x="125" y="291.2" width="306" height="249" fill="none" stroke="#000" stroke-width="1.85"/>
<text transform="translate(105.8 572.4) scale(0.9733 1)" font-size="26.5" fill="#000" stroke="#000" stroke-width="0.35"><tspan x="0">1</tspan><tspan x="16.47">0</tspan></text><text transform="translate(138.75 562.6) scale(0.9498 1)" font-size="18.55" fill="#000" stroke="#000" stroke-width="0.24">1</text>
<text transform="translate(194.8 572.4) scale(0.9733 1)" font-size="26.5" fill="#000" stroke="#000" stroke-width="0.35"><tspan x="0">1</tspan><tspan x="16.47">0</tspan></text><text transform="translate(227.55 562.6) scale(0.9586 1)" font-size="18.55" fill="#000" stroke="#000" stroke-width="0.24">2</text>
<text transform="translate(283.8 572.4) scale(0.9733 1)" font-size="26.5" fill="#000" stroke="#000" stroke-width="0.35"><tspan x="0">1</tspan><tspan x="16.47">0</tspan></text><text transform="translate(316.82 562.6) scale(0.9551 1)" font-size="18.55" fill="#000" stroke="#000" stroke-width="0.24">3</text>
<text transform="translate(372.8 572.4) scale(0.9733 1)" font-size="26.5" fill="#000" stroke="#000" stroke-width="0.35"><tspan x="0">1</tspan><tspan x="16.47">0</tspan></text><text transform="translate(405.6 562.6) scale(0.9946 1)" font-size="18.55" fill="#000" stroke="#000" stroke-width="0.24">4</text>
<text transform="translate(69.46 318) scale(0.9733 1)" font-size="26.5" fill="#000" stroke="#000" stroke-width="0.35"><tspan x="0">1</tspan><tspan x="16.47">0</tspan></text><text transform="translate(102.26 308.2) scale(0.9945 1)" font-size="18.55" fill="#000" stroke="#000" stroke-width="0.24">0</text>
<text transform="translate(55.25 375.98) scale(0.9733 1)" font-size="26.5" fill="#000" stroke="#000" stroke-width="0.35"><tspan x="0">1</tspan><tspan x="16.47">0</tspan></text><text transform="translate(88.36 366.18) scale(1.2155 1)" font-size="18.55" fill="#000" stroke="#000" stroke-width="0.24">−</text><text transform="translate(102.86 366.18) scale(0.9498 1)" font-size="18.55" fill="#000" stroke="#000" stroke-width="0.24">1</text>
<text transform="translate(55.39 433.96) scale(0.9733 1)" font-size="26.5" fill="#000" stroke="#000" stroke-width="0.35"><tspan x="0">1</tspan><tspan x="16.47">0</tspan></text><text transform="translate(88.5 424.16) scale(1.2155 1)" font-size="18.55" fill="#000" stroke="#000" stroke-width="0.24">−</text><text transform="translate(102.81 424.16) scale(0.9586 1)" font-size="18.55" fill="#000" stroke="#000" stroke-width="0.24">2</text>
<text transform="translate(55.04 491.94) scale(0.9733 1)" font-size="26.5" fill="#000" stroke="#000" stroke-width="0.35"><tspan x="0">1</tspan><tspan x="16.47">0</tspan></text><text transform="translate(88.15 482.14) scale(1.2155 1)" font-size="18.55" fill="#000" stroke="#000" stroke-width="0.24">−</text><text transform="translate(102.73 482.14) scale(0.9551 1)" font-size="18.55" fill="#000" stroke="#000" stroke-width="0.24">3</text>
<text transform="translate(54.62 549.9) scale(0.9733 1)" font-size="26.5" fill="#000" stroke="#000" stroke-width="0.35"><tspan x="0">1</tspan><tspan x="16.47">0</tspan></text><text transform="translate(87.73 540.1) scale(1.2155 1)" font-size="18.55" fill="#000" stroke="#000" stroke-width="0.24">−</text><text transform="translate(102.08 540.1) scale(0.9946 1)" font-size="18.55" fill="#000" stroke="#000" stroke-width="0.24">4</text>
<rect x="363.1" y="297.5" width="61.5" height="45.8" fill="#eeeeee" stroke="#222" stroke-width="1.3"/>
<text transform="translate(372.65 328) scale(0.8793 1)" font-size="31.8" fill="#000" stroke="#000" stroke-width="0.42"><tspan x="0" y="-2.01" font-size="28.68">(</tspan><tspan x="12.4" y="0">C</tspan><tspan x="38.54" y="-2.01" font-size="28.68">)</tspan></text>
<rect x="136.3" y="464.9" width="104.2" height="64.2" rx="4" ry="4" fill="#fff" fill-opacity="0.8" stroke="#ccc" stroke-width="1.4"/>
<path d="M161.08 481.25a4.22 4.22 0 1 0 8.45 0a4.22 4.22 0 1 0 -8.45 0z" fill="none" stroke="#0000ff" stroke-width="2.2"/>
<text transform="translate(207.41 486.7) scale(0.8758 1)" font-size="24.38" fill="#0000ff" stroke="#0000ff" stroke-width="0.32">C</text>
<text transform="translate(224.09 491.7) scale(0.9498 1)" font-size="17.07" fill="#0000ff" stroke="#0000ff" stroke-width="0.23">1</text>
<path d="M161.08 505.88h8.45v8.45h-8.45z" fill="none" stroke="#ff0000" stroke-width="2.2"/>
<text transform="translate(207.41 515.9) scale(0.8758 1)" font-size="24.38" fill="#ff0000" stroke="#ff0000" stroke-width="0.32">C</text>
<text transform="translate(223.92 520.9) scale(0.9586 1)" font-size="17.07" fill="#ff0000" stroke="#ff0000" stroke-width="0.23">2</text>
</g>
<g id="panel-D">
<g clip-path="url(#cD)" fill="none" stroke-width="2.2" stroke-linejoin="miter">
<path d="M515.07 306.4a4.22 4.22 0 1 0 8.45 0a4.22 4.22 0 1 0 -8.45 0zM535.17 309.7a4.22 4.22 0 1 0 8.45 0a4.22 4.22 0 1 0 -8.45 0zM546.77 312.9a4.22 4.22 0 1 0 8.45 0a4.22 4.22 0 1 0 -8.45 0zM555.48 315.1a4.22 4.22 0 1 0 8.45 0a4.22 4.22 0 1 0 -8.45 0zM562.07 316.7a4.22 4.22 0 1 0 8.45 0a4.22 4.22 0 1 0 -8.45 0zM567.48 318.4a4.22 4.22 0 1 0 8.45 0a4.22 4.22 0 1 0 -8.45 0zM572.07 320a4.22 4.22 0 1 0 8.45 0a4.22 4.22 0 1 0 -8.45 0zM576.07 321.3a4.22 4.22 0 1 0 8.45 0a4.22 4.22 0 1 0 -8.45 0zM579.48 322.4a4.22 4.22 0 1 0 8.45 0a4.22 4.22 0 1 0 -8.45 0zM582.77 323.3a4.22 4.22 0 1 0 8.45 0a4.22 4.22 0 1 0 -8.45 0zM587.67 324.7a4.22 4.22 0 1 0 8.45 0a4.22 4.22 0 1 0 -8.45 0zM594.07 328.7a4.22 4.22 0 1 0 8.45 0a4.22 4.22 0 1 0 -8.45 0zM600.77 330.7a4.22 4.22 0 1 0 8.45 0a4.22 4.22 0 1 0 -8.45 0zM607.48 334a4.22 4.22 0 1 0 8.45 0a4.22 4.22 0 1 0 -8.45 0zM614.38 335.3a4.22 4.22 0 1 0 8.45 0a4.22 4.22 0 1 0 -8.45 0zM621.17 338.4a4.22 4.22 0 1 0 8.45 0a4.22 4.22 0 1 0 -8.45 0zM627.48 341.3a4.22 4.22 0 1 0 8.45 0a4.22 4.22 0 1 0 -8.45 0zM634.48 344a4.22 4.22 0 1 0 8.45 0a4.22 4.22 0 1 0 -8.45 0zM641.07 346.7a4.22 4.22 0 1 0 8.45 0a4.22 4.22 0 1 0 -8.45 0zM647.88 350a4.22 4.22 0 1 0 8.45 0a4.22 4.22 0 1 0 -8.45 0zM654.27 352a4.22 4.22 0 1 0 8.45 0a4.22 4.22 0 1 0 -8.45 0zM661.07 354.8a4.22 4.22 0 1 0 8.45 0a4.22 4.22 0 1 0 -8.45 0zM667.88 358.2a4.22 4.22 0 1 0 8.45 0a4.22 4.22 0 1 0 -8.45 0zM674.67 362.3a4.22 4.22 0 1 0 8.45 0a4.22 4.22 0 1 0 -8.45 0zM681.57 365.7a4.22 4.22 0 1 0 8.45 0a4.22 4.22 0 1 0 -8.45 0zM688.38 370.1a4.22 4.22 0 1 0 8.45 0a4.22 4.22 0 1 0 -8.45 0zM694.77 375.3a4.22 4.22 0 1 0 8.45 0a4.22 4.22 0 1 0 -8.45 0zM701.38 379.2a4.22 4.22 0 1 0 8.45 0a4.22 4.22 0 1 0 -8.45 0zM708.17 384.4a4.22 4.22 0 1 0 8.45 0a4.22 4.22 0 1 0 -8.45 0zM714.98 390.1a4.22 4.22 0 1 0 8.45 0a4.22 4.22 0 1 0 -8.45 0zM721.88 395.4a4.22 4.22 0 1 0 8.45 0a4.22 4.22 0 1 0 -8.45 0zM728.17 400.8a4.22 4.22 0 1 0 8.45 0a4.22 4.22 0 1 0 -8.45 0zM735.07 406.1a4.22 4.22 0 1 0 8.45 0a4.22 4.22 0 1 0 -8.45 0zM741.48 412.2a4.22 4.22 0 1 0 8.45 0a4.22 4.22 0 1 0 -8.45 0zM748.27 417a4.22 4.22 0 1 0 8.45 0a4.22 4.22 0 1 0 -8.45 0zM754.88 422.5a4.22 4.22 0 1 0 8.45 0a4.22 4.22 0 1 0 -8.45 0zM761.67 429.3a4.22 4.22 0 1 0 8.45 0a4.22 4.22 0 1 0 -8.45 0zM768.57 435.2a4.22 4.22 0 1 0 8.45 0a4.22 4.22 0 1 0 -8.45 0zM775.17 443.6a4.22 4.22 0 1 0 8.45 0a4.22 4.22 0 1 0 -8.45 0zM782.17 453.2a4.22 4.22 0 1 0 8.45 0a4.22 4.22 0 1 0 -8.45 0zM788.57 465.7a4.22 4.22 0 1 0 8.45 0a4.22 4.22 0 1 0 -8.45 0zM795.38 481.9a4.22 4.22 0 1 0 8.45 0a4.22 4.22 0 1 0 -8.45 0zM802.27 511.3a4.22 4.22 0 1 0 8.45 0a4.22 4.22 0 1 0 -8.45 0z" stroke="#ff0000"/>
<path d="M519.3 305.8L521.36 306.12L523.43 306.46L525.49 306.81L527.56 307.18L529.62 307.56L531.68 307.95L533.75 308.35L535.81 308.76L537.88 309.18L539.94 309.61L542 310.07L544.07 310.54L546.13 311.02L548.2 311.53L550.26 312.04L552.32 312.57L554.39 313.1L556.45 313.64L558.52 314.19L560.58 314.73L562.64 315.28L564.71 315.84L566.77 316.4L568.84 316.98L570.9 317.56L572.96 318.16L575.03 318.77L577.09 319.39L579.16 320.03L581.22 320.69L583.28 321.38L585.35 322.09L587.41 322.81L589.48 323.56L591.54 324.32L593.61 325.08L595.67 325.86L597.73 326.64L599.8 327.42L601.86 328.21L603.93 329L605.99 329.8L608.05 330.62L610.12 331.44L612.18 332.27L614.25 333.1L616.31 333.95L618.37 334.81L620.44 335.69L622.5 336.57L624.57 337.46L626.63 338.36L628.69 339.27L630.76 340.2L632.82 341.13L634.89 342.08L636.95 343.05L639.01 344.03L641.08 345.02L643.14 346.05L645.21 347.1L647.27 348.17L649.33 349.25L651.4 350.33L653.46 351.41L655.53 352.47L657.59 353.52L659.65 354.56L661.72 355.59L663.78 356.62L665.85 357.66L667.91 358.7L669.97 359.75L672.04 360.81L674.1 361.9L676.17 363L678.23 364.14L680.29 365.3L682.36 366.48L684.42 367.69L686.49 368.91L688.55 370.15L690.61 371.41L692.68 372.67L694.74 373.95L696.81 375.23L698.87 376.52L700.93 377.81L703 379.11L705.06 380.42L707.13 381.74L709.19 383.07L711.25 384.41L713.32 385.76L715.38 387.12L717.45 388.48L719.51 389.86L721.57 391.24L723.64 392.63L725.7 394.02L727.77 395.41L729.83 396.81L731.89 398.21L733.96 399.62L736.02 401.05L738.09 402.49L740.15 403.95L742.22 405.44L744.28 406.95L746.34 408.48L748.41 410.04L750.47 411.62L752.54 413.24L754.6 414.91L756.66 416.67L758.73 418.51L760.79 420.44L762.86 422.46L764.92 424.56L766.98 426.73L769.05 428.96L771.11 431.24L773.18 433.57L775.24 436L777.3 438.54L779.37 441.23L781.43 444.08L783.5 447.04L785.56 450.18L787.62 453.54L789.69 457.2L791.75 461.21L793.82 465.63L795.88 470.94L797.94 477.92L800.01 487.76L802.07 499.67L804.14 514.4L806.2 529" stroke="#8b0000" stroke-width="2.2"/>
</g>
<path d="M519.5 540.2v8.4M653.66 540.2v8.4M787.82 540.2v8.4M509 299.1h-8.4M509 379.47h-8.4M509 459.84h-8.4M509 540.2h-8.4" stroke="#000" stroke-width="1.7" fill="none"/>
<rect x="509" y="291.2" width="306" height="249" fill="none" stroke="#000" stroke-width="1.85"/>
<text transform="translate(496.7 572.4) scale(0.9733 1)" font-size="26.5" fill="#000" stroke="#000" stroke-width="0.35"><tspan x="0">1</tspan><tspan x="16.47">0</tspan></text><text transform="translate(529.5 562.6) scale(0.9945 1)" font-size="18.55" fill="#000" stroke="#000" stroke-width="0.24">0</text>
<text transform="translate(630.86 572.4) scale(0.9733 1)" font-size="26.5" fill="#000" stroke="#000" stroke-width="0.35"><tspan x="0">1</tspan><tspan x="16.47">0</tspan></text><text transform="translate(663.61 562.6) scale(0.9586 1)" font-size="18.55" fill="#000" stroke="#000" stroke-width="0.24">2</text>
<text transform="translate(765.02 572.4) scale(0.9733 1)" font-size="26.5" fill="#000" stroke="#000" stroke-width="0.35"><tspan x="0">1</tspan><tspan x="16.47">0</tspan></text><text transform="translate(797.82 562.6) scale(0.9946 1)" font-size="18.55" fill="#000" stroke="#000" stroke-width="0.24">4</text>
<text transform="translate(453.46 308.8) scale(0.9733 1)" font-size="26.5" fill="#000" stroke="#000" stroke-width="0.35"><tspan x="0">1</tspan><tspan x="16.47">0</tspan></text><text transform="translate(486.26 299) scale(0.9945 1)" font-size="18.55" fill="#000" stroke="#000" stroke-width="0.24">0</text>
<text transform="translate(439.25 389.17) scale(0.9733 1)" font-size="26.5" fill="#000" stroke="#000" stroke-width="0.35"><tspan x="0">1</tspan><tspan x="16.47">0</tspan></text><text transform="translate(472.36 379.37) scale(1.2155 1)" font-size="18.55" fill="#000" stroke="#000" stroke-width="0.24">−</text><text transform="translate(486.86 379.37) scale(0.9498 1)" font-size="18.55" fill="#000" stroke="#000" stroke-width="0.24">1</text>
<text transform="translate(439.39 469.54) scale(0.9733 1)" font-size="26.5" fill="#000" stroke="#000" stroke-width="0.35"><tspan x="0">1</tspan><tspan x="16.47">0</tspan></text><text transform="translate(472.5 459.74) scale(1.2155 1)" font-size="18.55" fill="#000" stroke="#000" stroke-width="0.24">−</text><text transform="translate(486.81 459.74) scale(0.9586 1)" font-size="18.55" fill="#000" stroke="#000" stroke-width="0.24">2</text>
<text transform="translate(439.04 549.9) scale(0.9733 1)" font-size="26.5" fill="#000" stroke="#000" stroke-width="0.35"><tspan x="0">1</tspan><tspan x="16.47">0</tspan></text><text transform="translate(472.15 540.1) scale(1.2155 1)" font-size="18.55" fill="#000" stroke="#000" stroke-width="0.24">−</text><text transform="translate(486.73 540.1) scale(0.9551 1)" font-size="18.55" fill="#000" stroke="#000" stroke-width="0.24">3</text>
<rect x="726.1" y="297.5" width="82.5" height="48.9" fill="#eeeeee" stroke="#222" stroke-width="1.3"/>
<text transform="translate(734.89 330.7) scale(0.9350 1)" font-size="31.8" fill="#000" stroke="#000" stroke-width="0.42"><tspan x="0" y="-2.01" font-size="28.68">(</tspan><tspan x="12.7" y="0">D</tspan><tspan x="38.65" y="-2.01" font-size="28.68">)</tspan></text>
<text transform="translate(784.3 322.3) scale(1.1625 1)" font-size="23.53" fill="#000" stroke="#000" stroke-width="0.31">*</text>
</g>
<g id="panel-E">
<g clip-path="url(#cE)" fill="none" stroke-width="2.2" stroke-linejoin="miter">
<path d="M897.88 303.1a4.22 4.22 0 1 0 8.45 0a4.22 4.22 0 1 0 -8.45 0zM904.07 304.3a4.22 4.22 0 1 0 8.45 0a4.22 4.22 0 1 0 -8.45 0zM910.38 305.6a4.22 4.22 0 1 0 8.45 0a4.22 4.22 0 1 0 -8.45 0zM916.77 307.1a4.22 4.22 0 1 0 8.45 0a4.22 4.22 0 1 0 -8.45 0zM923.07 308.7a4.22 4.22 0 1 0 8.45 0a4.22 4.22 0 1 0 -8.45 0zM929.48 310.4a4.22 4.22 0 1 0 8.45 0a4.22 4.22 0 1 0 -8.45 0zM935.67 312.3a4.22 4.22 0 1 0 8.45 0a4.22 4.22 0 1 0 -8.45 0zM942.07 314.3a4.22 4.22 0 1 0 8.45 0a4.22 4.22 0 1 0 -8.45 0zM948.38 316.4a4.22 4.22 0 1 0 8.45 0a4.22 4.22 0 1 0 -8.45 0zM954.77 318.7a4.22 4.22 0 1 0 8.45 0a4.22 4.22 0 1 0 -8.45 0zM961.07 320.9a4.22 4.22 0 1 0 8.45 0a4.22 4.22 0 1 0 -8.45 0zM967.48 323.3a4.22 4.22 0 1 0 8.45 0a4.22 4.22 0 1 0 -8.45 0zM973.67 326a4.22 4.22 0 1 0 8.45 0a4.22 4.22 0 1 0 -8.45 0zM980.07 328.7a4.22 4.22 0 1 0 8.45 0a4.22 4.22 0 1 0 -8.45 0zM986.38 331.3a4.22 4.22 0 1 0 8.45 0a4.22 4.22 0 1 0 -8.45 0zM992.77 334.4a4.22 4.22 0 1 0 8.45 0a4.22 4.22 0 1 0 -8.45 0zM999.07 337.6a4.22 4.22 0 1 0 8.45 0a4.22 4.22 0 1 0 -8.45 0zM1005.48 340.7a4.22 4.22 0 1 0 8.45 0a4.22 4.22 0 1 0 -8.45 0zM1011.48 344a4.22 4.22 0 1 0 8.45 0a4.22 4.22 0 1 0 -8.45 0zM1017.67 347.3a4.22 4.22 0 1 0 8.45 0a4.22 4.22 0 1 0 -8.45 0zM1024.08 350.9a4.22 4.22 0 1 0 8.45 0a4.22 4.22 0 1 0 -8.45 0zM1030.08 354.7a4.22 4.22 0 1 0 8.45 0a4.22 4.22 0 1 0 -8.45 0zM1036.28 359a4.22 4.22 0 1 0 8.45 0a4.22 4.22 0 1 0 -8.45 0zM1042.48 363.2a4.22 4.22 0 1 0 8.45 0a4.22 4.22 0 1 0 -8.45 0zM1048.58 368a4.22 4.22 0 1 0 8.45 0a4.22 4.22 0 1 0 -8.45 0zM1054.68 373a4.22 4.22 0 1 0 8.45 0a4.22 4.22 0 1 0 -8.45 0zM1061.08 377.6a4.22 4.22 0 1 0 8.45 0a4.22 4.22 0 1 0 -8.45 0zM1067.18 384a4.22 4.22 0 1 0 8.45 0a4.22 4.22 0 1 0 -8.45 0zM1073.58 388.5a4.22 4.22 0 1 0 8.45 0a4.22 4.22 0 1 0 -8.45 0zM1080.18 394a4.22 4.22 0 1 0 8.45 0a4.22 4.22 0 1 0 -8.45 0zM1086.58 401a4.22 4.22 0 1 0 8.45 0a4.22 4.22 0 1 0 -8.45 0zM1092.78 406.7a4.22 4.22 0 1 0 8.45 0a4.22 4.22 0 1 0 -8.45 0zM1099.08 413.3a4.22 4.22 0 1 0 8.45 0a4.22 4.22 0 1 0 -8.45 0zM1105.48 420.2a4.22 4.22 0 1 0 8.45 0a4.22 4.22 0 1 0 -8.45 0zM1111.68 427a4.22 4.22 0 1 0 8.45 0a4.22 4.22 0 1 0 -8.45 0zM1117.98 432.9a4.22 4.22 0 1 0 8.45 0a4.22 4.22 0 1 0 -8.45 0zM1124.18 439.8a4.22 4.22 0 1 0 8.45 0a4.22 4.22 0 1 0 -8.45 0zM1130.28 446.6a4.22 4.22 0 1 0 8.45 0a4.22 4.22 0 1 0 -8.45 0zM1136.68 452.3a4.22 4.22 0 1 0 8.45 0a4.22 4.22 0 1 0 -8.45 0zM1143.08 458a4.22 4.22 0 1 0 8.45 0a4.22 4.22 0 1 0 -8.45 0zM1149.28 465.3a4.22 4.22 0 1 0 8.45 0a4.22 4.22 0 1 0 -8.45 0zM1155.58 471.7a4.22 4.22 0 1 0 8.45 0a4.22 4.22 0 1 0 -8.45 0zM1162.18 477.4a4.22 4.22 0 1 0 8.45 0a4.22 4.22 0 1 0 -8.45 0zM1168.18 496.3a4.22 4.22 0 1 0 8.45 0a4.22 4.22 0 1 0 -8.45 0zM1174.78 509.7a4.22 4.22 0 1 0 8.45 0a4.22 4.22 0 1 0 -8.45 0zM1180.68 524.1a4.22 4.22 0 1 0 8.45 0a4.22 4.22 0 1 0 -8.45 0z" stroke="#ff0000"/>
<path d="M902.1 303.1L904.2 303.49L906.3 303.89L908.4 304.3L910.49 304.74L912.59 305.18L914.69 305.64L916.79 306.12L918.89 306.6L920.99 307.1L923.09 307.61L925.18 308.14L927.28 308.69L929.38 309.26L931.48 309.84L933.58 310.43L935.68 311.04L937.78 311.66L939.87 312.29L941.97 312.94L944.07 313.6L946.17 314.27L948.27 314.97L950.37 315.67L952.47 316.39L954.56 317.13L956.66 317.87L958.76 318.61L960.86 319.37L962.96 320.14L965.06 320.93L967.16 321.73L969.25 322.54L971.35 323.36L973.45 324.19L975.55 325.04L977.65 325.9L979.75 326.76L981.85 327.64L983.94 328.53L986.04 329.44L988.14 330.35L990.24 331.29L992.34 332.23L994.44 333.2L996.54 334.18L998.63 335.18L1000.73 336.21L1002.83 337.26L1004.93 338.32L1007.03 339.41L1009.13 340.51L1011.23 341.61L1013.32 342.73L1015.42 343.85L1017.52 344.97L1019.62 346.08L1021.72 347.2L1023.82 348.32L1025.92 349.46L1028.01 350.63L1030.11 351.83L1032.21 353.07L1034.31 354.36L1036.41 355.71L1038.51 357.12L1040.61 358.58L1042.7 360.08L1044.8 361.63L1046.9 363.22L1049 364.84L1051.1 366.49L1053.2 368.17L1055.29 369.86L1057.39 371.57L1059.49 373.3L1061.59 375.08L1063.69 376.9L1065.79 378.76L1067.89 380.65L1069.98 382.56L1072.08 384.5L1074.18 386.44L1076.28 388.39L1078.38 390.34L1080.48 392.29L1082.58 394.23L1084.67 396.18L1086.77 398.13L1088.87 400.09L1090.97 402.07L1093.07 404.05L1095.17 406.06L1097.27 408.08L1099.36 410.12L1101.46 412.18L1103.56 414.26L1105.66 416.36L1107.76 418.48L1109.86 420.61L1111.96 422.76L1114.05 424.93L1116.15 427.12L1118.25 429.34L1120.35 431.59L1122.45 433.86L1124.55 436.17L1126.65 438.51L1128.74 440.88L1130.84 443.28L1132.94 445.72L1135.04 448.18L1137.14 450.67L1139.24 453.2L1141.34 455.76L1143.43 458.36L1145.53 461L1147.63 463.67L1149.73 466.38L1151.83 469.14L1153.93 471.96L1156.03 474.83L1158.12 477.74L1160.22 480.68L1162.32 483.66L1164.42 486.66L1166.52 489.69L1168.62 492.72L1170.72 495.77L1172.81 498.84L1174.91 501.98L1177.01 505.18L1179.11 508.38L1181.21 511.53L1183.31 514.6L1185.41 517.59L1187.5 520.54L1189.6 523.44L1191.7 526.29L1193.8 529.1" stroke="#8b0000" stroke-width="2.2"/>
</g>
<path d="M928.5 540.2v8.4M1054.5 540.2v8.4M1180.5 540.2v8.4M893 302.8h-8.4M893 379.27h-8.4M893 455.74h-8.4M893 532.21h-8.4" stroke="#000" stroke-width="1.7" fill="none"/>
<rect x="893" y="291.2" width="306.2" height="249" fill="none" stroke="#000" stroke-width="1.85"/>
<text transform="translate(905.7 572.4) scale(0.9733 1)" font-size="26.5" fill="#000" stroke="#000" stroke-width="0.35"><tspan x="0">1</tspan><tspan x="16.47">0</tspan></text><text transform="translate(938.45 562.6) scale(0.9586 1)" font-size="18.55" fill="#000" stroke="#000" stroke-width="0.24">2</text>
<text transform="translate(1031.7 572.4) scale(0.9733 1)" font-size="26.5" fill="#000" stroke="#000" stroke-width="0.35"><tspan x="0">1</tspan><tspan x="16.47">0</tspan></text><text transform="translate(1064.5 562.6) scale(0.9946 1)" font-size="18.55" fill="#000" stroke="#000" stroke-width="0.24">4</text>
<text transform="translate(1157.7 572.4) scale(0.9733 1)" font-size="26.5" fill="#000" stroke="#000" stroke-width="0.35"><tspan x="0">1</tspan><tspan x="16.47">0</tspan></text><text transform="translate(1190.32 562.6) scale(1.0293 1)" font-size="18.55" fill="#000" stroke="#000" stroke-width="0.24">6</text>
<text transform="translate(837.46 312.5) scale(0.9733 1)" font-size="26.5" fill="#000" stroke="#000" stroke-width="0.35"><tspan x="0">1</tspan><tspan x="16.47">0</tspan></text><text transform="translate(870.26 302.7) scale(0.9945 1)" font-size="18.55" fill="#000" stroke="#000" stroke-width="0.24">0</text>
<text transform="translate(823.25 388.97) scale(0.9733 1)" font-size="26.5" fill="#000" stroke="#000" stroke-width="0.35"><tspan x="0">1</tspan><tspan x="16.47">0</tspan></text><text transform="translate(856.36 379.17) scale(1.2155 1)" font-size="18.55" fill="#000" stroke="#000" stroke-width="0.24">−</text><text transform="translate(870.86 379.17) scale(0.9498 1)" font-size="18.55" fill="#000" stroke="#000" stroke-width="0.24">1</text>
<text transform="translate(823.39 465.44) scale(0.9733 1)" font-size="26.5" fill="#000" stroke="#000" stroke-width="0.35"><tspan x="0">1</tspan><tspan x="16.47">0</tspan></text><text transform="translate(856.5 455.64) scale(1.2155 1)" font-size="18.55" fill="#000" stroke="#000" stroke-width="0.24">−</text><text transform="translate(870.81 455.64) scale(0.9586 1)" font-size="18.55" fill="#000" stroke="#000" stroke-width="0.24">2</text>
<text transform="translate(823.04 541.91) scale(0.9733 1)" font-size="26.5" fill="#000" stroke="#000" stroke-width="0.35"><tspan x="0">1</tspan><tspan x="16.47">0</tspan></text><text transform="translate(856.15 532.11) scale(1.2155 1)" font-size="18.55" fill="#000" stroke="#000" stroke-width="0.24">−</text><text transform="translate(870.73 532.11) scale(0.9551 1)" font-size="18.55" fill="#000" stroke="#000" stroke-width="0.24">3</text>
<rect x="1132.9" y="297.5" width="59.6" height="45.8" fill="#eeeeee" stroke="#222" stroke-width="1.3"/>
<text transform="translate(1142.82 328) scale(0.8488 1)" font-size="31.8" fill="#000" stroke="#000" stroke-width="0.42"><tspan x="0" y="-2.01" font-size="28.68">(</tspan><tspan x="12.92" y="0">E</tspan><tspan x="37.53" y="-2.01" font-size="28.68">)</tspan></text>
</g>
<g id="panel-F">
<g clip-path="url(#cF)" fill="none" stroke-width="2.2" stroke-linejoin="miter">
<path d="M136.13 593.55a4.22 4.22 0 1 0 8.45 0a4.22 4.22 0 1 0 -8.45 0zM145.11 595.46a4.22 4.22 0 1 0 8.45 0a4.22 4.22 0 1 0 -8.45 0zM151.48 595.98a4.22 4.22 0 1 0 8.45 0a4.22 4.22 0 1 0 -8.45 0zM156.42 597.55a4.22 4.22 0 1 0 8.45 0a4.22 4.22 0 1 0 -8.45 0zM160.46 597.99a4.22 4.22 0 1 0 8.45 0a4.22 4.22 0 1 0 -8.45 0zM163.88 598.86a4.22 4.22 0 1 0 8.45 0a4.22 4.22 0 1 0 -8.45 0zM166.83 599.69a4.22 4.22 0 1 0 8.45 0a4.22 4.22 0 1 0 -8.45 0zM169.44 600.1a4.22 4.22 0 1 0 8.45 0a4.22 4.22 0 1 0 -8.45 0zM171.78 600.5a4.22 4.22 0 1 0 8.45 0a4.22 4.22 0 1 0 -8.45 0zM173.89 600.96a4.22 4.22 0 1 0 8.45 0a4.22 4.22 0 1 0 -8.45 0zM175.81 601.38a4.22 4.22 0 1 0 8.45 0a4.22 4.22 0 1 0 -8.45 0zM177.59 602.47a4.22 4.22 0 1 0 8.45 0a4.22 4.22 0 1 0 -8.45 0zM175.08 605.5a4.22 4.22 0 1 0 8.45 0a4.22 4.22 0 1 0 -8.45 0zM181.78 605.35a4.22 4.22 0 1 0 8.45 0a4.22 4.22 0 1 0 -8.45 0zM185.97 605.68a4.22 4.22 0 1 0 8.45 0a4.22 4.22 0 1 0 -8.45 0zM190.18 609.73a4.22 4.22 0 1 0 8.45 0a4.22 4.22 0 1 0 -8.45 0zM194.38 609.06a4.22 4.22 0 1 0 8.45 0a4.22 4.22 0 1 0 -8.45 0zM198.58 611.18a4.22 4.22 0 1 0 8.45 0a4.22 4.22 0 1 0 -8.45 0zM202.78 612.49a4.22 4.22 0 1 0 8.45 0a4.22 4.22 0 1 0 -8.45 0zM206.97 615.52a4.22 4.22 0 1 0 8.45 0a4.22 4.22 0 1 0 -8.45 0zM211.18 617.26a4.22 4.22 0 1 0 8.45 0a4.22 4.22 0 1 0 -8.45 0zM215.38 619.27a4.22 4.22 0 1 0 8.45 0a4.22 4.22 0 1 0 -8.45 0zM219.58 620.04a4.22 4.22 0 1 0 8.45 0a4.22 4.22 0 1 0 -8.45 0zM223.78 622.14a4.22 4.22 0 1 0 8.45 0a4.22 4.22 0 1 0 -8.45 0zM227.97 624.12a4.22 4.22 0 1 0 8.45 0a4.22 4.22 0 1 0 -8.45 0zM232.18 626.55a4.22 4.22 0 1 0 8.45 0a4.22 4.22 0 1 0 -8.45 0zM236.38 628.15a4.22 4.22 0 1 0 8.45 0a4.22 4.22 0 1 0 -8.45 0zM240.58 630.56a4.22 4.22 0 1 0 8.45 0a4.22 4.22 0 1 0 -8.45 0zM244.78 635.85a4.22 4.22 0 1 0 8.45 0a4.22 4.22 0 1 0 -8.45 0zM248.97 638.37a4.22 4.22 0 1 0 8.45 0a4.22 4.22 0 1 0 -8.45 0zM253.17 638.25a4.22 4.22 0 1 0 8.45 0a4.22 4.22 0 1 0 -8.45 0zM257.38 640.49a4.22 4.22 0 1 0 8.45 0a4.22 4.22 0 1 0 -8.45 0zM261.57 644.2a4.22 4.22 0 1 0 8.45 0a4.22 4.22 0 1 0 -8.45 0zM266.88 644.8a4.22 4.22 0 1 0 8.45 0a4.22 4.22 0 1 0 -8.45 0zM271.47 648.2a4.22 4.22 0 1 0 8.45 0a4.22 4.22 0 1 0 -8.45 0zM276.07 650.5a4.22 4.22 0 1 0 8.45 0a4.22 4.22 0 1 0 -8.45 0zM280.57 656.2a4.22 4.22 0 1 0 8.45 0a4.22 4.22 0 1 0 -8.45 0zM286.27 658.5a4.22 4.22 0 1 0 8.45 0a4.22 4.22 0 1 0 -8.45 0zM291.97 661.9a4.22 4.22 0 1 0 8.45 0a4.22 4.22 0 1 0 -8.45 0zM296.57 669.9a4.22 4.22 0 1 0 8.45 0a4.22 4.22 0 1 0 -8.45 0zM302.17 673.3a4.22 4.22 0 1 0 8.45 0a4.22 4.22 0 1 0 -8.45 0zM306.77 677.8a4.22 4.22 0 1 0 8.45 0a4.22 4.22 0 1 0 -8.45 0zM312.47 683.5a4.22 4.22 0 1 0 8.45 0a4.22 4.22 0 1 0 -8.45 0zM317.67 686.9a4.22 4.22 0 1 0 8.45 0a4.22 4.22 0 1 0 -8.45 0zM322.77 691a4.22 4.22 0 1 0 8.45 0a4.22 4.22 0 1 0 -8.45 0zM327.27 700.2a4.22 4.22 0 1 0 8.45 0a4.22 4.22 0 1 0 -8.45 0zM332.47 704.7a4.22 4.22 0 1 0 8.45 0a4.22 4.22 0 1 0 -8.45 0zM337.57 710.4a4.22 4.22 0 1 0 8.45 0a4.22 4.22 0 1 0 -8.45 0zM342.77 720.7a4.22 4.22 0 1 0 8.45 0a4.22 4.22 0 1 0 -8.45 0zM347.77 729.1a4.22 4.22 0 1 0 8.45 0a4.22 4.22 0 1 0 -8.45 0zM352.77 733a4.22 4.22 0 1 0 8.45 0a4.22 4.22 0 1 0 -8.45 0zM358.07 736.6a4.22 4.22 0 1 0 8.45 0a4.22 4.22 0 1 0 -8.45 0zM363.07 747.8a4.22 4.22 0 1 0 8.45 0a4.22 4.22 0 1 0 -8.45 0zM368.27 754.6a4.22 4.22 0 1 0 8.45 0a4.22 4.22 0 1 0 -8.45 0zM373.47 756.4a4.22 4.22 0 1 0 8.45 0a4.22 4.22 0 1 0 -8.45 0zM378.57 764.4a4.22 4.22 0 1 0 8.45 0a4.22 4.22 0 1 0 -8.45 0zM383.77 767.4a4.22 4.22 0 1 0 8.45 0a4.22 4.22 0 1 0 -8.45 0zM392.17 781a4.22 4.22 0 1 0 8.45 0a4.22 4.22 0 1 0 -8.45 0zM393.97 786a4.22 4.22 0 1 0 8.45 0a4.22 4.22 0 1 0 -8.45 0zM400.88 811.1a4.22 4.22 0 1 0 8.45 0a4.22 4.22 0 1 0 -8.45 0z" stroke="#ff0000"/>
<path d="M140 593.7L141.91 593.96L143.83 594.23L145.74 594.51L147.65 594.81L149.57 595.12L151.48 595.44L153.4 595.77L155.31 596.12L157.22 596.47L159.14 596.83L161.05 597.21L162.96 597.59L164.88 598L166.79 598.41L168.71 598.85L170.62 599.29L172.53 599.76L174.45 600.23L176.36 600.73L178.27 601.23L180.19 601.75L182.1 602.29L184.01 602.85L185.93 603.44L187.84 604.04L189.76 604.67L191.67 605.31L193.58 605.97L195.5 606.65L197.41 607.34L199.32 608.05L201.24 608.77L203.15 609.52L205.06 610.31L206.98 611.11L208.89 611.94L210.81 612.78L212.72 613.64L214.63 614.52L216.55 615.4L218.46 616.28L220.37 617.17L222.29 618.07L224.2 618.98L226.12 619.9L228.03 620.83L229.94 621.77L231.86 622.73L233.77 623.7L235.68 624.7L237.6 625.71L239.51 626.73L241.42 627.78L243.34 628.84L245.25 629.92L247.17 631.01L249.08 632.13L250.99 633.27L252.91 634.43L254.82 635.62L256.73 636.84L258.65 638.09L260.56 639.38L262.47 640.72L264.39 642.11L266.3 643.54L268.22 645.02L270.13 646.52L272.04 648.04L273.96 649.59L275.87 651.14L277.78 652.7L279.7 654.25L281.61 655.81L283.53 657.38L285.44 658.97L287.35 660.58L289.27 662.21L291.18 663.87L293.09 665.56L295.01 667.28L296.92 669.02L298.83 670.79L300.75 672.58L302.66 674.39L304.58 676.21L306.49 678.05L308.4 679.9L310.32 681.75L312.23 683.61L314.14 685.48L316.06 687.35L317.97 689.22L319.88 691.09L321.8 692.97L323.71 694.86L325.63 696.76L327.54 698.68L329.45 700.6L331.37 702.54L333.28 704.49L335.19 706.46L337.11 708.45L339.02 710.46L340.94 712.48L342.85 714.53L344.76 716.59L346.68 718.66L348.59 720.75L350.5 722.86L352.42 724.98L354.33 727.12L356.24 729.27L358.16 731.44L360.07 733.62L361.99 735.82L363.9 738.02L365.81 740.24L367.73 742.47L369.64 744.72L371.55 746.99L373.47 749.27L375.38 751.57L377.29 753.9L379.21 756.24L381.12 758.61L383.04 761.01L384.95 763.43L386.86 765.88L388.78 768.35L390.69 770.85L392.6 773.37L394.52 775.92L396.43 778.49L398.35 781.09L400.26 783.71L402.17 786.35L404.09 789.01L406 791.7" stroke="#8b0000" stroke-width="2.2"/>
</g>
<path d="M125 829.5v8.4M227 829.5v8.4M329 829.5v8.4M431 829.5v8.4M125 591.7h-8.4M125 681.2h-8.4M125 770.7h-8.4" stroke="#000" stroke-width="1.7" fill="none"/>
<rect x="125" y="580.6" width="306" height="248.9" fill="none" stroke="#000" stroke-width="1.85"/>
<text transform="translate(102.2 861.7) scale(0.9733 1)" font-size="26.5" fill="#000" stroke="#000" stroke-width="0.35"><tspan x="0">1</tspan><tspan x="16.47">0</tspan></text><text transform="translate(135 851.9) scale(0.9945 1)" font-size="18.55" fill="#000" stroke="#000" stroke-width="0.24">0</text>
<text transform="translate(204.2 861.7) scale(0.9733 1)" font-size="26.5" fill="#000" stroke="#000" stroke-width="0.35"><tspan x="0">1</tspan><tspan x="16.47">0</tspan></text><text transform="translate(236.95 851.9) scale(0.9586 1)" font-size="18.55" fill="#000" stroke="#000" stroke-width="0.24">2</text>
<text transform="translate(306.2 861.7) scale(0.9733 1)" font-size="26.5" fill="#000" stroke="#000" stroke-width="0.35"><tspan x="0">1</tspan><tspan x="16.47">0</tspan></text><text transform="translate(339 851.9) scale(0.9946 1)" font-size="18.55" fill="#000" stroke="#000" stroke-width="0.24">4</text>
<text transform="translate(408.2 861.7) scale(0.9733 1)" font-size="26.5" fill="#000" stroke="#000" stroke-width="0.35"><tspan x="0">1</tspan><tspan x="16.47">0</tspan></text><text transform="translate(440.82 851.9) scale(1.0293 1)" font-size="18.55" fill="#000" stroke="#000" stroke-width="0.24">6</text>
<text transform="translate(69.46 601.4) scale(0.9733 1)" font-size="26.5" fill="#000" stroke="#000" stroke-width="0.35"><tspan x="0">1</tspan><tspan x="16.47">0</tspan></text><text transform="translate(102.26 591.6) scale(0.9945 1)" font-size="18.55" fill="#000" stroke="#000" stroke-width="0.24">0</text>
<text transform="translate(55.39 690.9) scale(0.9733 1)" font-size="26.5" fill="#000" stroke="#000" stroke-width="0.35"><tspan x="0">1</tspan><tspan x="16.47">0</tspan></text><text transform="translate(88.5 681.1) scale(1.2155 1)" font-size="18.55" fill="#000" stroke="#000" stroke-width="0.24">−</text><text transform="translate(102.81 681.1) scale(0.9586 1)" font-size="18.55" fill="#000" stroke="#000" stroke-width="0.24">2</text>
<text transform="translate(54.62 780.4) scale(0.9733 1)" font-size="26.5" fill="#000" stroke="#000" stroke-width="0.35"><tspan x="0">1</tspan><tspan x="16.47">0</tspan></text><text transform="translate(87.73 770.6) scale(1.2155 1)" font-size="18.55" fill="#000" stroke="#000" stroke-width="0.24">−</text><text transform="translate(102.08 770.6) scale(0.9946 1)" font-size="18.55" fill="#000" stroke="#000" stroke-width="0.24">4</text>
<rect x="367.3" y="586.7" width="57.3" height="45.6" fill="#eeeeee" stroke="#222" stroke-width="1.3"/>
<text transform="translate(376.54 616.9) scale(0.8460 1)" font-size="31.8" fill="#000" stroke="#000" stroke-width="0.42"><tspan x="0" y="-2.01" font-size="28.68">(</tspan><tspan x="12.92" y="0">F</tspan><tspan x="35.64" y="-2.01" font-size="28.68">)</tspan></text>
</g>
<g id="panel-G">
<g clip-path="url(#cG)" fill="none" stroke-width="2.2" stroke-linejoin="miter">
<path d="M515.48 593a4.22 4.22 0 1 0 8.45 0a4.22 4.22 0 1 0 -8.45 0zM522.48 593.3a4.22 4.22 0 1 0 8.45 0a4.22 4.22 0 1 0 -8.45 0zM529.48 593.7a4.22 4.22 0 1 0 8.45 0a4.22 4.22 0 1 0 -8.45 0zM536.38 594.3a4.22 4.22 0 1 0 8.45 0a4.22 4.22 0 1 0 -8.45 0zM543.48 594.7a4.22 4.22 0 1 0 8.45 0a4.22 4.22 0 1 0 -8.45 0zM550.38 595a4.22 4.22 0 1 0 8.45 0a4.22 4.22 0 1 0 -8.45 0zM557.48 597.7a4.22 4.22 0 1 0 8.45 0a4.22 4.22 0 1 0 -8.45 0zM564.48 597.9a4.22 4.22 0 1 0 8.45 0a4.22 4.22 0 1 0 -8.45 0zM571.48 598.7a4.22 4.22 0 1 0 8.45 0a4.22 4.22 0 1 0 -8.45 0zM578.48 601a4.22 4.22 0 1 0 8.45 0a4.22 4.22 0 1 0 -8.45 0zM585.48 601.9a4.22 4.22 0 1 0 8.45 0a4.22 4.22 0 1 0 -8.45 0zM592.48 604.3a4.22 4.22 0 1 0 8.45 0a4.22 4.22 0 1 0 -8.45 0zM599.67 606.3a4.22 4.22 0 1 0 8.45 0a4.22 4.22 0 1 0 -8.45 0zM606.77 611a4.22 4.22 0 1 0 8.45 0a4.22 4.22 0 1 0 -8.45 0zM613.88 613.4a4.22 4.22 0 1 0 8.45 0a4.22 4.22 0 1 0 -8.45 0zM620.77 616.1a4.22 4.22 0 1 0 8.45 0a4.22 4.22 0 1 0 -8.45 0zM627.48 623a4.22 4.22 0 1 0 8.45 0a4.22 4.22 0 1 0 -8.45 0zM634.48 626.6a4.22 4.22 0 1 0 8.45 0a4.22 4.22 0 1 0 -8.45 0zM641.48 631.4a4.22 4.22 0 1 0 8.45 0a4.22 4.22 0 1 0 -8.45 0zM648.77 638.6a4.22 4.22 0 1 0 8.45 0a4.22 4.22 0 1 0 -8.45 0zM655.77 643.7a4.22 4.22 0 1 0 8.45 0a4.22 4.22 0 1 0 -8.45 0zM662.57 650.5a4.22 4.22 0 1 0 8.45 0a4.22 4.22 0 1 0 -8.45 0zM669.67 657.3a4.22 4.22 0 1 0 8.45 0a4.22 4.22 0 1 0 -8.45 0zM676.48 664.9a4.22 4.22 0 1 0 8.45 0a4.22 4.22 0 1 0 -8.45 0zM683.77 671.7a4.22 4.22 0 1 0 8.45 0a4.22 4.22 0 1 0 -8.45 0zM691.07 677.4a4.22 4.22 0 1 0 8.45 0a4.22 4.22 0 1 0 -8.45 0zM697.98 688.8a4.22 4.22 0 1 0 8.45 0a4.22 4.22 0 1 0 -8.45 0zM704.98 696.1a4.22 4.22 0 1 0 8.45 0a4.22 4.22 0 1 0 -8.45 0zM711.77 704a4.22 4.22 0 1 0 8.45 0a4.22 4.22 0 1 0 -8.45 0zM719.07 714.3a4.22 4.22 0 1 0 8.45 0a4.22 4.22 0 1 0 -8.45 0zM726.38 722.9a4.22 4.22 0 1 0 8.45 0a4.22 4.22 0 1 0 -8.45 0zM733.27 733.6a4.22 4.22 0 1 0 8.45 0a4.22 4.22 0 1 0 -8.45 0zM740.27 742.8a4.22 4.22 0 1 0 8.45 0a4.22 4.22 0 1 0 -8.45 0zM747.57 754.6a4.22 4.22 0 1 0 8.45 0a4.22 4.22 0 1 0 -8.45 0zM754.88 762.1a4.22 4.22 0 1 0 8.45 0a4.22 4.22 0 1 0 -8.45 0zM761.67 769.4a4.22 4.22 0 1 0 8.45 0a4.22 4.22 0 1 0 -8.45 0zM771.48 778.7a4.22 4.22 0 1 0 8.45 0a4.22 4.22 0 1 0 -8.45 0zM779.98 780.3a4.22 4.22 0 1 0 8.45 0a4.22 4.22 0 1 0 -8.45 0zM783.57 781.7a4.22 4.22 0 1 0 8.45 0a4.22 4.22 0 1 0 -8.45 0zM802.27 813.6a4.22 4.22 0 1 0 8.45 0a4.22 4.22 0 1 0 -8.45 0z" stroke="#ff0000"/>
<path d="M519.7 593.3L521.68 593.33L523.67 593.37L525.65 593.43L527.64 593.51L529.62 593.6L531.61 593.7L533.59 593.81L535.57 593.94L537.56 594.07L539.54 594.2L541.53 594.34L543.51 594.49L545.49 594.64L547.48 594.8L549.46 595L551.45 595.21L553.43 595.44L555.42 595.7L557.4 595.97L559.38 596.25L561.37 596.56L563.35 596.87L565.34 597.2L567.32 597.53L569.3 597.88L571.29 598.23L573.27 598.59L575.26 598.97L577.24 599.38L579.23 599.82L581.21 600.27L583.19 600.74L585.18 601.24L587.16 601.76L589.15 602.29L591.13 602.85L593.11 603.42L595.1 604.01L597.08 604.62L599.07 605.25L601.05 605.91L603.04 606.61L605.02 607.34L607 608.11L608.99 608.91L610.97 609.74L612.96 610.6L614.94 611.49L616.92 612.4L618.91 613.33L620.89 614.28L622.88 615.25L624.86 616.23L626.85 617.24L628.83 618.31L630.81 619.41L632.8 620.56L634.78 621.74L636.77 622.96L638.75 624.21L640.73 625.48L642.72 626.78L644.7 628.1L646.69 629.45L648.67 630.87L650.66 632.33L652.64 633.85L654.62 635.4L656.61 637L658.59 638.67L660.58 640.38L662.56 642.13L664.54 643.89L666.53 645.67L668.51 647.45L670.5 649.25L672.48 651.08L674.47 652.95L676.45 654.86L678.43 656.84L680.42 658.86L682.4 660.92L684.39 663.02L686.37 665.16L688.35 667.33L690.34 669.53L692.32 671.76L694.31 674.01L696.29 676.29L698.28 678.59L700.26 680.9L702.24 683.24L704.23 685.6L706.21 687.99L708.2 690.42L710.18 692.87L712.16 695.34L714.15 697.85L716.13 700.38L718.12 702.93L720.1 705.5L722.09 708.1L724.07 710.72L726.05 713.35L728.04 715.99L730.02 718.66L732.01 721.34L733.99 724.06L735.97 726.82L737.96 729.61L739.94 732.45L741.93 735.34L743.91 738.28L745.9 741.29L747.88 744.36L749.86 747.5L751.85 750.71L753.83 753.98L755.82 757.31L757.8 760.69L759.78 764.11L761.77 767.57L763.75 771.08L765.74 774.61L767.72 778.17L769.71 781.76L771.69 785.42L773.67 789.14L775.66 792.93L777.64 796.76L779.63 800.63L781.61 804.54L783.59 808.48L785.58 812.46L787.56 816.48L789.55 820.55L791.53 824.66L793.52 828.81L795.5 833" stroke="#8b0000" stroke-width="2.2"/>
</g>
<path d="M561.2 829.5v8.4M631.73 829.5v8.4M702.26 829.5v8.4M772.79 829.5v8.4M509 592.9h-8.4M509 663.5h-8.4M509 734.1h-8.4M509 804.7h-8.4" stroke="#000" stroke-width="1.7" fill="none"/>
<rect x="509" y="580.6" width="306" height="248.9" fill="none" stroke="#000" stroke-width="1.85"/>
<text transform="translate(538.4 861.7) scale(0.9733 1)" font-size="26.5" fill="#000" stroke="#000" stroke-width="0.35"><tspan x="0">1</tspan><tspan x="16.47">0</tspan></text><text transform="translate(571.15 851.9) scale(0.9586 1)" font-size="18.55" fill="#000" stroke="#000" stroke-width="0.24">2</text>
<text transform="translate(608.93 861.7) scale(0.9733 1)" font-size="26.5" fill="#000" stroke="#000" stroke-width="0.35"><tspan x="0">1</tspan><tspan x="16.47">0</tspan></text><text transform="translate(641.95 851.9) scale(0.9551 1)" font-size="18.55" fill="#000" stroke="#000" stroke-width="0.24">3</text>
<text transform="translate(679.46 861.7) scale(0.9733 1)" font-size="26.5" fill="#000" stroke="#000" stroke-width="0.35"><tspan x="0">1</tspan><tspan x="16.47">0</tspan></text><text transform="translate(712.26 851.9) scale(0.9946 1)" font-size="18.55" fill="#000" stroke="#000" stroke-width="0.24">4</text>
<text transform="translate(749.99 861.7) scale(0.9733 1)" font-size="26.5" fill="#000" stroke="#000" stroke-width="0.35"><tspan x="0">1</tspan><tspan x="16.47">0</tspan></text><text transform="translate(783.01 851.9) scale(0.9385 1)" font-size="18.55" fill="#000" stroke="#000" stroke-width="0.24">5</text>
<text transform="translate(453.46 602.6) scale(0.9733 1)" font-size="26.5" fill="#000" stroke="#000" stroke-width="0.35"><tspan x="0">1</tspan><tspan x="16.47">0</tspan></text><text transform="translate(486.26 592.8) scale(0.9945 1)" font-size="18.55" fill="#000" stroke="#000" stroke-width="0.24">0</text>
<text transform="translate(439.39 673.2) scale(0.9733 1)" font-size="26.5" fill="#000" stroke="#000" stroke-width="0.35"><tspan x="0">1</tspan><tspan x="16.47">0</tspan></text><text transform="translate(472.5 663.4) scale(1.2155 1)" font-size="18.55" fill="#000" stroke="#000" stroke-width="0.24">−</text><text transform="translate(486.81 663.4) scale(0.9586 1)" font-size="18.55" fill="#000" stroke="#000" stroke-width="0.24">2</text>
<text transform="translate(438.62 743.8) scale(0.9733 1)" font-size="26.5" fill="#000" stroke="#000" stroke-width="0.35"><tspan x="0">1</tspan><tspan x="16.47">0</tspan></text><text transform="translate(471.73 734) scale(1.2155 1)" font-size="18.55" fill="#000" stroke="#000" stroke-width="0.24">−</text><text transform="translate(486.08 734) scale(0.9946 1)" font-size="18.55" fill="#000" stroke="#000" stroke-width="0.24">4</text>
<text transform="translate(438.74 814.4) scale(0.9733 1)" font-size="26.5" fill="#000" stroke="#000" stroke-width="0.35"><tspan x="0">1</tspan><tspan x="16.47">0</tspan></text><text transform="translate(471.85 804.6) scale(1.2155 1)" font-size="18.55" fill="#000" stroke="#000" stroke-width="0.24">−</text><text transform="translate(486.02 804.6) scale(1.0293 1)" font-size="18.55" fill="#000" stroke="#000" stroke-width="0.24">6</text>
<rect x="744.8" y="586.7" width="63.8" height="45.6" fill="#eeeeee" stroke="#222" stroke-width="1.3"/>
<text transform="translate(754.01 616.9) scale(0.9049 1)" font-size="31.8" fill="#000" stroke="#000" stroke-width="0.42"><tspan x="0" y="-2.01" font-size="28.68">(</tspan><tspan x="12.39" y="0">G</tspan><tspan x="40.04" y="-2.01" font-size="28.68">)</tspan></text>
</g>
<g id="panel-H">
<g clip-path="url(#cH)" fill="none" stroke-width="2.2" stroke-linejoin="miter">
<path d="M898.07 591.7a4.22 4.22 0 1 0 8.45 0a4.22 4.22 0 1 0 -8.45 0zM907.17 593.3a4.22 4.22 0 1 0 8.45 0a4.22 4.22 0 1 0 -8.45 0zM916.38 594.6a4.22 4.22 0 1 0 8.45 0a4.22 4.22 0 1 0 -8.45 0zM925.48 596.1a4.22 4.22 0 1 0 8.45 0a4.22 4.22 0 1 0 -8.45 0zM934.48 597.3a4.22 4.22 0 1 0 8.45 0a4.22 4.22 0 1 0 -8.45 0zM943.67 598.6a4.22 4.22 0 1 0 8.45 0a4.22 4.22 0 1 0 -8.45 0zM952.77 600.1a4.22 4.22 0 1 0 8.45 0a4.22 4.22 0 1 0 -8.45 0zM961.88 601.4a4.22 4.22 0 1 0 8.45 0a4.22 4.22 0 1 0 -8.45 0zM971.07 602.7a4.22 4.22 0 1 0 8.45 0a4.22 4.22 0 1 0 -8.45 0zM980.07 604.6a4.22 4.22 0 1 0 8.45 0a4.22 4.22 0 1 0 -8.45 0zM989.17 606.3a4.22 4.22 0 1 0 8.45 0a4.22 4.22 0 1 0 -8.45 0zM998.38 608.7a4.22 4.22 0 1 0 8.45 0a4.22 4.22 0 1 0 -8.45 0zM1007.48 611a4.22 4.22 0 1 0 8.45 0a4.22 4.22 0 1 0 -8.45 0zM1016.48 613.3a4.22 4.22 0 1 0 8.45 0a4.22 4.22 0 1 0 -8.45 0zM1025.68 617a4.22 4.22 0 1 0 8.45 0a4.22 4.22 0 1 0 -8.45 0zM1034.78 621.2a4.22 4.22 0 1 0 8.45 0a4.22 4.22 0 1 0 -8.45 0zM1043.78 626.1a4.22 4.22 0 1 0 8.45 0a4.22 4.22 0 1 0 -8.45 0zM1052.98 632.6a4.22 4.22 0 1 0 8.45 0a4.22 4.22 0 1 0 -8.45 0zM1062.08 639.2a4.22 4.22 0 1 0 8.45 0a4.22 4.22 0 1 0 -8.45 0zM1071.28 647.5a4.22 4.22 0 1 0 8.45 0a4.22 4.22 0 1 0 -8.45 0zM1080.38 655.6a4.22 4.22 0 1 0 8.45 0a4.22 4.22 0 1 0 -8.45 0zM1089.48 667.1a4.22 4.22 0 1 0 8.45 0a4.22 4.22 0 1 0 -8.45 0zM1098.68 677.5a4.22 4.22 0 1 0 8.45 0a4.22 4.22 0 1 0 -8.45 0zM1107.78 691.4a4.22 4.22 0 1 0 8.45 0a4.22 4.22 0 1 0 -8.45 0zM1116.98 701.8a4.22 4.22 0 1 0 8.45 0a4.22 4.22 0 1 0 -8.45 0zM1126.08 714.1a4.22 4.22 0 1 0 8.45 0a4.22 4.22 0 1 0 -8.45 0zM1135.18 727.2a4.22 4.22 0 1 0 8.45 0a4.22 4.22 0 1 0 -8.45 0zM1144.38 736.6a4.22 4.22 0 1 0 8.45 0a4.22 4.22 0 1 0 -8.45 0zM1153.48 748a4.22 4.22 0 1 0 8.45 0a4.22 4.22 0 1 0 -8.45 0zM1163.18 758.5a4.22 4.22 0 1 0 8.45 0a4.22 4.22 0 1 0 -8.45 0zM1173.88 785.1a4.22 4.22 0 1 0 8.45 0a4.22 4.22 0 1 0 -8.45 0zM1182.18 808.9a4.22 4.22 0 1 0 8.45 0a4.22 4.22 0 1 0 -8.45 0z" stroke="#ff0000"/>
<path d="M902.3 591.9L904.34 592.25L906.39 592.6L908.43 592.95L910.48 593.3L912.52 593.65L914.56 594L916.61 594.35L918.65 594.7L920.69 595.05L922.74 595.4L924.78 595.76L926.83 596.11L928.87 596.46L930.91 596.81L932.96 597.16L935 597.5L937.05 597.85L939.09 598.19L941.13 598.54L943.18 598.88L945.22 599.23L947.27 599.58L949.31 599.93L951.35 600.29L953.4 600.65L955.44 601.02L957.48 601.39L959.53 601.76L961.57 602.13L963.62 602.51L965.66 602.89L967.7 603.27L969.75 603.65L971.79 604.04L973.84 604.44L975.88 604.84L977.92 605.25L979.97 605.68L982.01 606.11L984.06 606.55L986.1 607L988.14 607.46L990.19 607.93L992.23 608.42L994.27 608.91L996.32 609.41L998.36 609.92L1000.41 610.45L1002.45 610.98L1004.49 611.52L1006.54 612.07L1008.58 612.63L1010.63 613.2L1012.67 613.78L1014.71 614.37L1016.76 614.98L1018.8 615.6L1020.85 616.24L1022.89 616.89L1024.93 617.57L1026.98 618.25L1029.02 618.96L1031.06 619.68L1033.11 620.43L1035.15 621.21L1037.2 622.01L1039.24 622.83L1041.28 623.67L1043.33 624.52L1045.37 625.39L1047.42 626.3L1049.46 627.24L1051.5 628.19L1053.55 629.13L1055.59 630.06L1057.64 630.94L1059.68 631.78L1061.72 632.58L1063.77 633.36L1065.81 634.12L1067.85 634.87L1069.9 635.6L1071.94 636.32L1073.99 637.04L1076.03 637.76L1078.07 638.48L1080.12 639.2L1082.16 639.93L1084.21 640.68L1086.25 641.44L1088.29 642.22L1090.34 643L1092.38 643.79L1094.43 644.58L1096.47 645.38L1098.51 646.18L1100.56 646.99L1102.6 647.8L1104.64 648.62L1106.69 649.45L1108.73 650.29L1110.78 651.14L1112.82 652L1114.86 652.87L1116.91 653.76L1118.95 654.66L1121 655.57L1123.04 656.5L1125.08 657.43L1127.13 658.37L1129.17 659.31L1131.22 660.26L1133.26 661.2L1135.3 662.14L1137.35 663.07L1139.39 664L1141.43 664.91L1143.48 665.81L1145.52 666.71L1147.57 667.6L1149.61 668.49L1151.65 669.39L1153.7 670.28L1155.74 671.19L1157.79 672.1L1159.83 673.03L1161.87 673.97L1163.92 674.94L1165.96 675.92L1168.01 676.93L1170.05 677.95L1172.09 678.99L1174.14 680.05L1176.18 681.12L1178.22 682.21L1180.27 683.31L1182.31 684.43L1184.36 685.56L1186.4 686.7" stroke="#8b0000" stroke-width="2.2" stroke-dasharray="2.2 3.63"/>
<path d="M902.3 591.7L904.34 592.03L906.39 592.36L908.43 592.69L910.48 593.01L912.52 593.34L914.56 593.66L916.61 593.98L918.65 594.3L920.69 594.62L922.74 594.94L924.78 595.25L926.83 595.56L928.87 595.87L930.91 596.18L932.96 596.49L935 596.79L937.05 597.09L939.09 597.38L941.13 597.68L943.18 597.97L945.22 598.27L947.27 598.56L949.31 598.86L951.35 599.16L953.4 599.46L955.44 599.76L957.48 600.07L959.53 600.38L961.57 600.68L963.62 600.99L965.66 601.29L967.7 601.59L969.75 601.9L971.79 602.21L973.84 602.53L975.88 602.85L977.92 603.19L979.97 603.53L982.01 603.89L984.06 604.25L986.1 604.64L988.14 605.04L990.19 605.46L992.23 605.9L994.27 606.35L996.32 606.81L998.36 607.28L1000.41 607.77L1002.45 608.26L1004.49 608.76L1006.54 609.26L1008.58 609.76L1010.63 610.28L1012.67 610.82L1014.71 611.39L1016.76 612L1018.8 612.65L1020.85 613.35L1022.89 614.15L1024.93 615.05L1026.98 616.03L1029.02 617.07L1031.06 618.14L1033.11 619.22L1035.15 620.28L1037.2 621.32L1039.24 622.38L1041.28 623.44L1043.33 624.53L1045.37 625.64L1047.42 626.78L1049.46 627.96L1051.5 629.18L1053.55 630.43L1055.59 631.72L1057.64 633.04L1059.68 634.4L1061.72 635.82L1063.77 637.29L1065.81 638.82L1067.85 640.43L1069.9 642.11L1071.94 643.88L1073.99 645.71L1076.03 647.61L1078.07 649.58L1080.12 651.6L1082.16 653.67L1084.21 655.83L1086.25 658.09L1088.29 660.45L1090.34 662.87L1092.38 665.33L1094.43 667.82L1096.47 670.31L1098.51 672.79L1100.56 675.28L1102.6 677.81L1104.64 680.36L1106.69 682.94L1108.73 685.53L1110.78 688.15L1112.82 690.78L1114.86 693.44L1116.91 696.15L1118.95 698.89L1121 701.65L1123.04 704.41L1125.08 707.15L1127.13 709.86L1129.17 712.52L1131.22 715.13L1133.26 717.71L1135.3 720.26L1137.35 722.79L1139.39 725.32L1141.43 727.84L1143.48 730.38L1145.52 732.93L1147.57 735.5L1149.61 738.08L1151.65 740.67L1153.7 743.24L1155.74 745.8L1157.79 748.33L1159.83 750.83L1161.87 753.28L1163.92 755.7L1165.96 758.08L1168.01 760.45L1170.05 762.8L1172.09 765.16L1174.14 767.52L1176.18 769.91L1178.22 772.32L1180.27 774.73L1182.31 777.15L1184.36 779.57L1186.4 782" stroke="#00008b" stroke-width="2.2"/>
</g>
<path d="M952.8 829.5v8.4M1043.9 829.5v8.4M1135 829.5v8.4M893 588.2h-8.4M893 668.64h-8.4M893 749.08h-8.4M893 829.5h-8.4" stroke="#000" stroke-width="1.7" fill="none"/>
<rect x="893" y="580.6" width="306.2" height="248.9" fill="none" stroke="#000" stroke-width="1.85"/>
<text transform="translate(930 861.7) scale(0.9733 1)" font-size="26.5" fill="#000" stroke="#000" stroke-width="0.35"><tspan x="0">1</tspan><tspan x="16.47">0</tspan></text><text transform="translate(963.02 851.9) scale(0.9551 1)" font-size="18.55" fill="#000" stroke="#000" stroke-width="0.24">3</text>
<text transform="translate(1021.1 861.7) scale(0.9733 1)" font-size="26.5" fill="#000" stroke="#000" stroke-width="0.35"><tspan x="0">1</tspan><tspan x="16.47">0</tspan></text><text transform="translate(1053.9 851.9) scale(0.9946 1)" font-size="18.55" fill="#000" stroke="#000" stroke-width="0.24">4</text>
<text transform="translate(1112.2 861.7) scale(0.9733 1)" font-size="26.5" fill="#000" stroke="#000" stroke-width="0.35"><tspan x="0">1</tspan><tspan x="16.47">0</tspan></text><text transform="translate(1145.22 851.9) scale(0.9385 1)" font-size="18.55" fill="#000" stroke="#000" stroke-width="0.24">5</text>
<text transform="translate(837.46 597.9) scale(0.9733 1)" font-size="26.5" fill="#000" stroke="#000" stroke-width="0.35"><tspan x="0">1</tspan><tspan x="16.47">0</tspan></text><text transform="translate(870.26 588.1) scale(0.9945 1)" font-size="18.55" fill="#000" stroke="#000" stroke-width="0.24">0</text>
<text transform="translate(823.39 678.34) scale(0.9733 1)" font-size="26.5" fill="#000" stroke="#000" stroke-width="0.35"><tspan x="0">1</tspan><tspan x="16.47">0</tspan></text><text transform="translate(856.5 668.54) scale(1.2155 1)" font-size="18.55" fill="#000" stroke="#000" stroke-width="0.24">−</text><text transform="translate(870.81 668.54) scale(0.9586 1)" font-size="18.55" fill="#000" stroke="#000" stroke-width="0.24">2</text>
<text transform="translate(822.62 758.78) scale(0.9733 1)" font-size="26.5" fill="#000" stroke="#000" stroke-width="0.35"><tspan x="0">1</tspan><tspan x="16.47">0</tspan></text><text transform="translate(855.73 748.98) scale(1.2155 1)" font-size="18.55" fill="#000" stroke="#000" stroke-width="0.24">−</text><text transform="translate(870.08 748.98) scale(0.9946 1)" font-size="18.55" fill="#000" stroke="#000" stroke-width="0.24">4</text>
<text transform="translate(822.74 839.2) scale(0.9733 1)" font-size="26.5" fill="#000" stroke="#000" stroke-width="0.35"><tspan x="0">1</tspan><tspan x="16.47">0</tspan></text><text transform="translate(855.85 829.4) scale(1.2155 1)" font-size="18.55" fill="#000" stroke="#000" stroke-width="0.24">−</text><text transform="translate(870.02 829.4) scale(1.0293 1)" font-size="18.55" fill="#000" stroke="#000" stroke-width="0.24">6</text>
<rect x="1128.75" y="586.7" width="63.75" height="45.6" fill="#eeeeee" stroke="#222" stroke-width="1.3"/>
<text transform="translate(1138.06 616.9) scale(0.9134 1)" font-size="31.8" fill="#000" stroke="#000" stroke-width="0.42"><tspan x="0" y="-2.01" font-size="28.68">(</tspan><tspan x="12.75" y="0">H</tspan><tspan x="38.93" y="-2.01" font-size="28.68">)</tspan></text>
</g>
<text transform="translate(45.6 464.91) rotate(-90) scale(0.8086 1)" font-size="53" fill="#000" stroke="#000" stroke-width="0.7">F</text>
<text transform="translate(45.6 435.86) rotate(-90) scale(0.8841 1)" font-size="53" fill="#000" stroke="#000" stroke-width="0.7"><tspan x="0" y="-3.35" font-size="47.81">(</tspan></text>
<text transform="translate(45.6 417) rotate(-90) scale(1.0264 1)" font-size="53" fill="#000" stroke="#000" stroke-width="0.7">b</text>
<text transform="translate(45.6 382.54) rotate(-90) scale(0.8841 1)" font-size="53" fill="#000" stroke="#000" stroke-width="0.7"><tspan x="0" y="-3.35" font-size="47.81">)</tspan></text>
<rect x="-2" y="437.3" width="5" height="29" fill="#000"/>
<text transform="translate(646.84 898.8) scale(1.0164 1)" font-size="53" fill="#000" stroke="#000" stroke-width="0.7" font-style="italic">b</text>
</svg>
</body></html>
